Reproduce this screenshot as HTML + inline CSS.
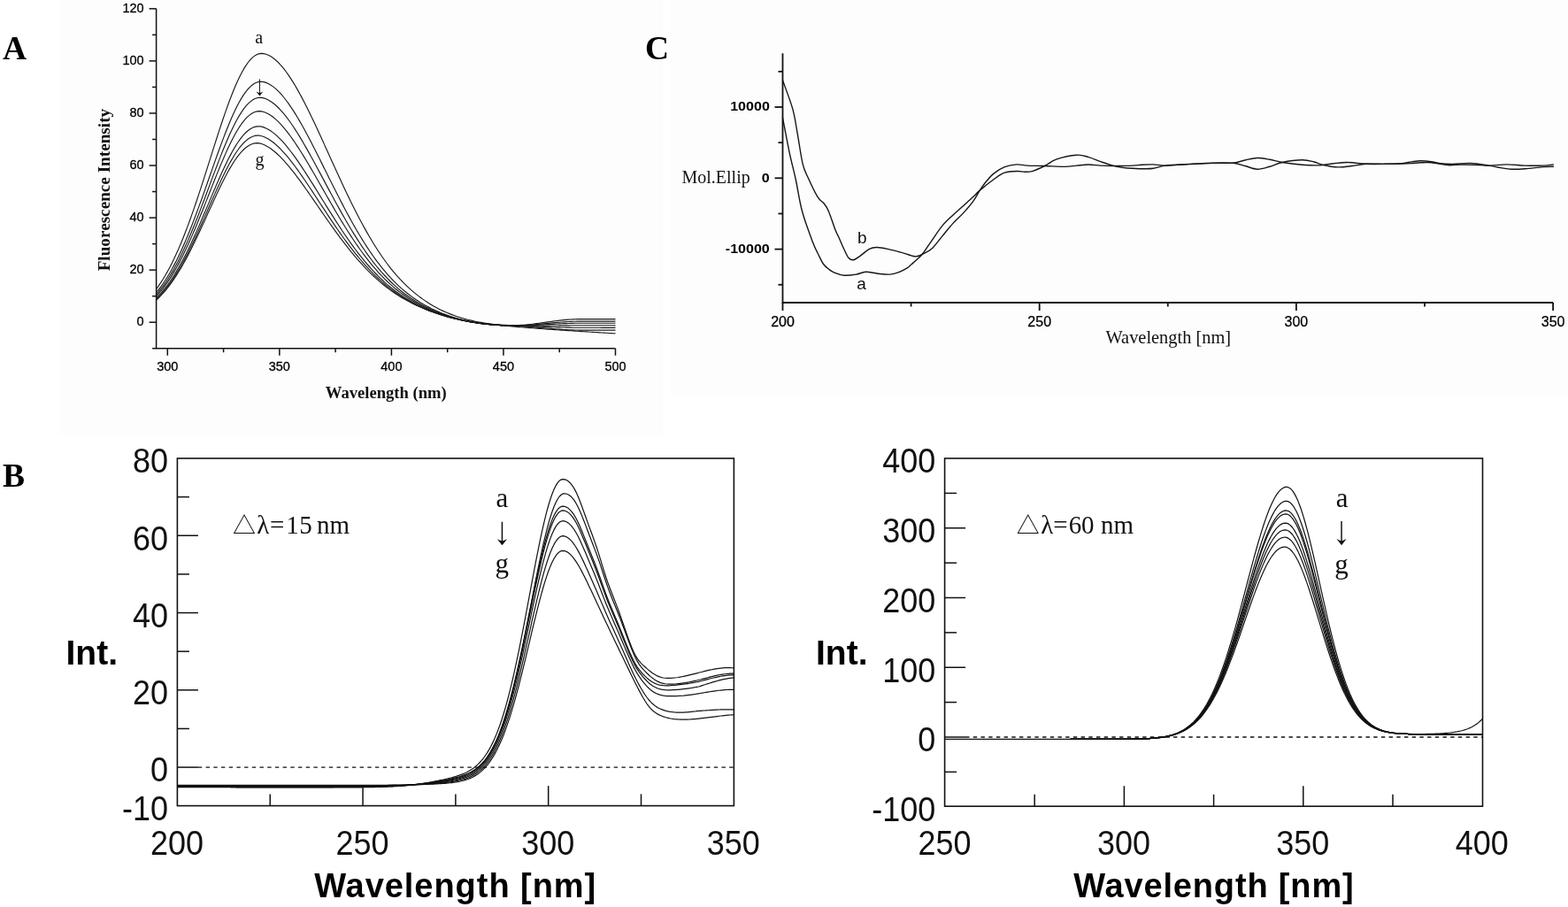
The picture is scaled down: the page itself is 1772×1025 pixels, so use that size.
<!DOCTYPE html>
<html><head><meta charset="utf-8"><title>Figure</title>
<style>html,body{margin:0;padding:0;background:#fff;}body{width:1772px;height:1025px;overflow:hidden;}svg{display:block;}</style>
</head><body>
<svg width="1772" height="1025" viewBox="0 0 1772 1025">
<rect x="0" y="0" width="1772" height="1025" fill="#ffffff"/>
<rect x="67" y="0" width="682" height="491.5" fill="#fdfdfd"/>
<rect x="757.5" y="0" width="1014.5" height="445.5" fill="#fdfdfd"/>
<g stroke="#111" stroke-width="1.5" fill="none" stroke-linecap="butt">
<path d="M176.6,9.84 L176.6,393.73 L695.4,393.73"/>
<path d="M172.1,393.73 L176.6,393.73"/>
<path d="M168.6,364.2 L176.6,364.2"/>
<path d="M172.1,334.67 L176.6,334.67"/>
<path d="M168.6,305.14 L176.6,305.14"/>
<path d="M172.1,275.61 L176.6,275.61"/>
<path d="M168.6,246.08 L176.6,246.08"/>
<path d="M172.1,216.55 L176.6,216.55"/>
<path d="M168.6,187.02 L176.6,187.02"/>
<path d="M172.1,157.49 L176.6,157.49"/>
<path d="M168.6,127.96 L176.6,127.96"/>
<path d="M172.1,98.43 L176.6,98.43"/>
<path d="M168.6,68.9 L176.6,68.9"/>
<path d="M172.1,39.37 L176.6,39.37"/>
<path d="M168.6,9.84 L176.6,9.84"/>
<path d="M189.3,393.73 L189.3,401.73"/>
<path d="M252.58,393.73 L252.58,398.23"/>
<path d="M315.85,393.73 L315.85,401.73"/>
<path d="M379.12,393.73 L379.12,398.23"/>
<path d="M442.4,393.73 L442.4,401.73"/>
<path d="M505.68,393.73 L505.68,398.23"/>
<path d="M568.95,393.73 L568.95,401.73"/>
<path d="M632.23,393.73 L632.23,398.23"/>
<path d="M695.5,393.73 L695.5,401.73"/>
</g>
<g font-family="'Liberation Sans', Arial, sans-serif" font-size="14.5" fill="#000" stroke="#000" stroke-width="0.3" text-anchor="end">
<text x="162.6" y="368.3">0</text>
<text x="162.6" y="309.24">20</text>
<text x="162.6" y="250.18">40</text>
<text x="162.6" y="191.12">60</text>
<text x="162.6" y="132.06">80</text>
<text x="162.6" y="73">100</text>
<text x="162.6" y="13.94">120</text>
</g>
<g font-family="'Liberation Sans', Arial, sans-serif" font-size="14.5" fill="#000" stroke="#000" stroke-width="0.3" text-anchor="middle">
<text x="189.3" y="419">300</text>
<text x="315.85" y="419">350</text>
<text x="442.4" y="419">400</text>
<text x="568.95" y="419">450</text>
<text x="695.5" y="419">500</text>
</g>
<text font-family="'Liberation Serif', 'Times New Roman', serif" font-weight="bold" font-size="18.6" fill="#111" x="436.3" y="449.8" text-anchor="middle">Wavelength (nm)</text>
<text font-family="'Liberation Serif', 'Times New Roman', serif" font-weight="bold" font-size="19.2" fill="#111" transform="translate(124,214.6) rotate(-90)" text-anchor="middle">Fluorescence Intensity</text>
<text font-family="'Liberation Serif', 'Times New Roman', serif" font-weight="bold" font-size="37.5" fill="#000" x="3" y="66.5">A</text>
<text font-family="'Liberation Serif', 'Times New Roman', serif" font-size="20" fill="#111" x="292.7" y="49" text-anchor="middle">a</text>
<text font-family="'Liberation Serif', 'Times New Roman', serif" font-size="20" fill="#111" x="293.4" y="186.6" text-anchor="middle">g</text>
<text transform="translate(293.4,107.1) scale(1.15,1)" font-size="22.1" font-family="'WenQuanYi Zen Hei', 'Noto Sans CJK SC', sans-serif" text-anchor="middle" fill="#111">↓</text>
<g stroke="#1a1a1a" stroke-width="1.15" fill="none" stroke-linejoin="round">
<path d="M176.65,326.54 L179.18,323.08 L181.71,319.38 L184.24,315.45 L186.77,311.27 L189.3,306.84 L191.83,302.16 L194.36,297.23 L196.89,292.03 L199.42,286.59 L201.96,280.89 L204.49,274.93 L207.02,268.74 L209.55,262.3 L212.08,255.64 L214.61,248.76 L217.14,241.68 L219.67,234.41 L222.2,226.97 L224.73,219.37 L227.27,211.64 L229.8,203.81 L232.33,195.88 L234.86,187.91 L237.39,179.9 L239.92,171.89 L242.45,163.91 L244.98,156 L247.51,148.18 L250.04,140.49 L252.58,132.97 L255.11,125.64 L257.64,118.55 L260.17,111.72 L262.7,105.2 L265.23,99 L267.76,93.17 L270.29,87.74 L272.82,82.73 L275.35,78.17 L277.88,74.09 L280.42,70.5 L282.95,67.43 L285.48,64.9 L288.01,62.91 L290.54,61.48 L293.07,60.62 L295.6,60.34 L298.13,60.57 L300.66,61.21 L303.2,62.21 L305.73,63.55 L308.26,65.22 L310.79,67.19 L313.32,69.46 L315.85,72.01 L318.38,74.83 L320.91,77.92 L323.44,81.24 L325.97,84.81 L328.5,88.59 L331.04,92.58 L333.57,96.77 L336.1,101.14 L338.63,105.68 L341.16,110.38 L343.69,115.22 L346.22,120.19 L348.75,125.27 L351.28,130.47 L353.82,135.75 L356.35,141.12 L358.88,146.55 L361.41,152.04 L363.94,157.57 L366.47,163.13 L369,168.71 L371.53,174.31 L374.06,179.9 L376.59,185.48 L379.12,191.04 L381.66,196.57 L384.19,202.06 L386.72,207.51 L389.25,212.9 L391.78,218.23 L394.31,223.49 L396.84,228.67 L399.37,233.77 L401.9,238.78 L404.44,243.71 L406.97,248.53 L409.5,253.25 L412.03,257.87 L414.56,262.38 L417.09,266.77 L419.62,271.06 L422.15,275.22 L424.68,279.27 L427.21,283.21 L429.75,287.02 L432.28,290.71 L434.81,294.28 L437.34,297.73 L439.87,301.06 L442.4,304.28 L444.93,307.37 L447.46,310.35 L449.99,313.21 L452.52,315.96 L455.06,318.6 L457.59,321.13 L460.12,323.57 L462.65,325.91 L465.18,328.17 L467.71,330.33 L470.24,332.41 L472.77,334.41 L475.3,336.32 L477.83,338.15 L480.37,339.9 L482.9,341.57 L485.43,343.18 L487.96,344.71 L490.49,346.17 L493.02,347.56 L495.55,348.89 L498.08,350.15 L500.61,351.36 L503.14,352.5 L505.68,353.59 L508.21,354.63 L510.74,355.61 L513.27,356.55 L515.8,357.43 L518.33,358.27 L520.86,359.06 L523.39,359.81 L525.92,360.52 L528.45,361.19 L530.99,361.81 L533.52,362.41 L536.05,362.96 L538.58,363.48 L541.11,363.96 L543.64,364.42 L546.17,364.84 L548.7,365.22 L551.23,365.58 L553.76,365.91 L556.3,366.21 L558.83,366.48 L561.36,366.72 L563.89,366.94 L566.42,367.13 L568.95,367.29 L571.48,367.43 L574.01,367.56 L576.54,367.66 L579.07,367.7 L581.61,367.69 L584.14,367.64 L586.67,367.53 L589.2,367.39 L591.73,367.21 L594.26,367 L596.79,366.76 L599.32,366.49 L601.85,366.2 L604.38,365.89 L606.91,365.57 L609.45,365.23 L611.98,364.88 L614.51,364.52 L617.04,364.17 L619.57,363.81 L622.1,363.45 L624.63,363.11 L627.16,362.77 L629.69,362.45 L632.23,362.14 L634.76,361.85 L637.29,361.59 L639.82,361.35 L642.35,361.14 L644.88,360.96 L647.41,360.82 L649.94,360.72 L652.47,360.65 L655,360.64 L657.54,360.64 L660.07,360.65 L662.6,360.65 L665.13,360.66 L667.66,360.66 L670.19,360.66 L672.72,360.66 L675.25,360.67 L677.78,360.67 L680.31,360.67 L682.85,360.67 L685.38,360.67 L687.91,360.68 L690.44,360.68 L692.97,360.68 L695.5,360.68"/>
<path d="M176.65,330.51 L179.18,327.39 L181.71,324.06 L184.24,320.51 L186.77,316.74 L189.3,312.74 L191.83,308.52 L194.36,304.06 L196.89,299.37 L199.42,294.44 L201.96,289.29 L204.49,283.91 L207.02,278.3 L209.55,272.48 L212.08,266.46 L214.61,260.24 L217.14,253.84 L219.67,247.26 L222.2,240.53 L224.73,233.67 L227.27,226.69 L229.8,219.61 L232.33,212.46 L234.86,205.26 L237.39,198.04 L239.92,190.82 L242.45,183.64 L244.98,176.51 L247.51,169.49 L250.04,162.58 L252.58,155.83 L255.11,149.27 L257.64,142.93 L260.17,136.83 L262.7,131.02 L265.23,125.51 L267.76,120.34 L270.29,115.54 L272.82,111.13 L275.35,107.14 L277.88,103.58 L280.42,100.48 L282.95,97.85 L285.48,95.71 L288.01,94.08 L290.54,92.95 L293.07,92.34 L295.6,92.26 L298.13,92.64 L300.66,93.4 L303.2,94.5 L305.73,95.91 L308.26,97.63 L310.79,99.63 L313.32,101.91 L315.85,104.44 L318.38,107.23 L320.91,110.25 L323.44,113.48 L325.97,116.93 L328.5,120.58 L331.04,124.4 L333.57,128.4 L336.1,132.56 L338.63,136.86 L341.16,141.29 L343.69,145.84 L346.22,150.5 L348.75,155.26 L351.28,160.09 L353.82,165 L356.35,169.97 L358.88,174.99 L361.41,180.04 L363.94,185.12 L366.47,190.21 L369,195.31 L371.53,200.4 L374.06,205.48 L376.59,210.54 L379.12,215.56 L381.66,220.55 L384.19,225.49 L386.72,230.37 L389.25,235.19 L391.78,239.95 L394.31,244.63 L396.84,249.23 L399.37,253.75 L401.9,258.18 L404.44,262.52 L406.97,266.76 L409.5,270.9 L412.03,274.94 L414.56,278.88 L417.09,282.71 L419.62,286.43 L422.15,290.04 L424.68,293.54 L427.21,296.94 L429.75,300.22 L432.28,303.39 L434.81,306.45 L437.34,309.4 L439.87,312.24 L442.4,314.98 L444.93,317.6 L447.46,320.13 L449.99,322.55 L452.52,324.86 L455.06,327.08 L457.59,329.21 L460.12,331.25 L462.65,333.22 L465.18,335.11 L467.71,336.92 L470.24,338.66 L472.77,340.32 L475.3,341.92 L477.83,343.44 L480.37,344.9 L482.9,346.3 L485.43,347.63 L487.96,348.9 L490.49,350.12 L493.02,351.28 L495.55,352.38 L498.08,353.44 L500.61,354.44 L503.14,355.4 L505.68,356.3 L508.21,357.17 L510.74,357.99 L513.27,358.76 L515.8,359.5 L518.33,360.2 L520.86,360.86 L523.39,361.49 L525.92,362.08 L528.45,362.64 L530.99,363.17 L533.52,363.66 L536.05,364.12 L538.58,364.56 L541.11,364.96 L543.64,365.34 L546.17,365.69 L548.7,366.01 L551.23,366.31 L553.76,366.58 L556.3,366.83 L558.83,367.05 L561.36,367.25 L563.89,367.42 L566.42,367.57 L568.95,367.7 L571.48,367.81 L574.01,367.91 L576.54,367.98 L579.07,368.02 L581.61,368.02 L584.14,367.98 L586.67,367.92 L589.2,367.82 L591.73,367.7 L594.26,367.56 L596.79,367.4 L599.32,367.21 L601.85,367.01 L604.38,366.8 L606.91,366.57 L609.45,366.34 L611.98,366.1 L614.51,365.85 L617.04,365.61 L619.57,365.36 L622.1,365.11 L624.63,364.87 L627.16,364.64 L629.69,364.42 L632.23,364.2 L634.76,364 L637.29,363.82 L639.82,363.66 L642.35,363.51 L644.88,363.39 L647.41,363.29 L649.94,363.22 L652.47,363.17 L655,363.16 L657.54,363.17 L660.07,363.17 L662.6,363.17 L665.13,363.17 L667.66,363.18 L670.19,363.18 L672.72,363.18 L675.25,363.18 L677.78,363.18 L680.31,363.19 L682.85,363.19 L685.38,363.19 L687.91,363.19 L690.44,363.19 L692.97,363.19 L695.5,363.19"/>
<path d="M176.65,332.76 L179.18,329.83 L181.71,326.7 L184.24,323.36 L186.77,319.81 L189.3,316.04 L191.83,312.06 L194.36,307.85 L196.89,303.43 L199.42,298.78 L201.96,293.92 L204.49,288.85 L207.02,283.56 L209.55,278.07 L212.08,272.39 L214.61,266.52 L217.14,260.48 L219.67,254.27 L222.2,247.93 L224.73,241.46 L227.27,234.88 L229.8,228.21 L232.33,221.47 L234.86,214.7 L237.39,207.9 L239.92,201.12 L242.45,194.37 L244.98,187.68 L247.51,181.09 L250.04,174.63 L252.58,168.31 L255.11,162.18 L257.64,156.26 L260.17,150.59 L262.7,145.19 L265.23,140.08 L267.76,135.31 L270.29,130.88 L272.82,126.84 L275.35,123.19 L277.88,119.96 L280.42,117.18 L282.95,114.84 L285.48,112.97 L288.01,111.58 L290.54,110.68 L293.07,110.27 L295.6,110.36 L298.13,110.88 L300.66,111.74 L303.2,112.93 L305.73,114.41 L308.26,116.18 L310.79,118.21 L313.32,120.5 L315.85,123.02 L318.38,125.77 L320.91,128.74 L323.44,131.9 L325.97,135.25 L328.5,138.78 L331.04,142.47 L333.57,146.31 L336.1,150.29 L338.63,154.4 L341.16,158.62 L343.69,162.95 L346.22,167.36 L348.75,171.86 L351.28,176.42 L353.82,181.04 L356.35,185.71 L358.88,190.41 L361.41,195.14 L363.94,199.88 L366.47,204.63 L369,209.38 L371.53,214.12 L374.06,218.83 L376.59,223.52 L379.12,228.18 L381.66,232.79 L384.19,237.35 L386.72,241.85 L389.25,246.3 L391.78,250.67 L394.31,254.98 L396.84,259.21 L399.37,263.35 L401.9,267.42 L404.44,271.39 L406.97,275.28 L409.5,279.07 L412.03,282.76 L414.56,286.36 L417.09,289.85 L419.62,293.25 L422.15,296.54 L424.68,299.74 L427.21,302.83 L429.75,305.82 L432.28,308.7 L434.81,311.49 L437.34,314.17 L439.87,316.76 L442.4,319.24 L444.93,321.63 L447.46,323.92 L449.99,326.12 L452.52,328.23 L455.06,330.24 L457.59,332.18 L460.12,334.04 L462.65,335.83 L465.18,337.55 L467.71,339.2 L470.24,340.78 L472.77,342.31 L475.3,343.76 L477.83,345.16 L480.37,346.5 L482.9,347.78 L485.43,349 L487.96,350.18 L490.49,351.29 L493.02,352.36 L495.55,353.39 L498.08,354.36 L500.61,355.29 L503.14,356.17 L505.68,357.02 L508.21,357.82 L510.74,358.59 L513.27,359.31 L515.8,360 L518.33,360.66 L520.86,361.28 L523.39,361.87 L525.92,362.42 L528.45,362.95 L530.99,363.44 L533.52,363.91 L536.05,364.35 L538.58,364.76 L541.11,365.15 L543.64,365.5 L546.17,365.84 L548.7,366.14 L551.23,366.43 L553.76,366.69 L556.3,366.92 L558.83,367.13 L561.36,367.32 L563.89,367.48 L566.42,367.63 L568.95,367.74 L571.48,367.85 L574.01,367.94 L576.54,368.02 L579.07,368.07 L581.61,368.09 L584.14,368.09 L586.67,368.07 L589.2,368.03 L591.73,367.97 L594.26,367.9 L596.79,367.81 L599.32,367.7 L601.85,367.59 L604.38,367.47 L606.91,367.33 L609.45,367.19 L611.98,367.05 L614.51,366.9 L617.04,366.75 L619.57,366.6 L622.1,366.45 L624.63,366.31 L627.16,366.16 L629.69,366.03 L632.23,365.89 L634.76,365.77 L637.29,365.66 L639.82,365.56 L642.35,365.47 L644.88,365.39 L647.41,365.33 L649.94,365.29 L652.47,365.26 L655,365.26 L657.54,365.26 L660.07,365.26 L662.6,365.27 L665.13,365.27 L667.66,365.27 L670.19,365.27 L672.72,365.28 L675.25,365.28 L677.78,365.28 L680.31,365.28 L682.85,365.28 L685.38,365.28 L687.91,365.28 L690.44,365.29 L692.97,365.29 L695.5,365.29"/>
<path d="M176.65,334.68 L179.18,331.91 L181.71,328.94 L184.24,325.78 L186.77,322.41 L189.3,318.84 L191.83,315.07 L194.36,311.08 L196.89,306.88 L199.42,302.47 L201.96,297.86 L204.49,293.04 L207.02,288.02 L209.55,282.81 L212.08,277.41 L214.61,271.84 L217.14,266.11 L219.67,260.22 L222.2,254.2 L224.73,248.06 L227.27,241.82 L229.8,235.5 L232.33,229.11 L234.86,222.7 L237.39,216.26 L239.92,209.85 L242.45,203.47 L244.98,197.16 L247.51,190.94 L250.04,184.85 L252.58,178.9 L255.11,173.14 L257.64,167.59 L260.17,162.28 L262.7,157.23 L265.23,152.47 L267.76,148.04 L270.29,143.94 L272.82,140.21 L275.35,136.87 L277.88,133.93 L280.42,131.42 L282.95,129.34 L285.48,127.71 L288.01,126.54 L290.54,125.83 L293.07,125.6 L295.6,125.85 L298.13,126.49 L300.66,127.45 L303.2,128.72 L305.73,130.26 L308.26,132.07 L310.79,134.12 L313.32,136.4 L315.85,138.91 L318.38,141.62 L320.91,144.52 L323.44,147.6 L325.97,150.85 L328.5,154.26 L331.04,157.82 L333.57,161.5 L336.1,165.31 L338.63,169.23 L341.16,173.25 L343.69,177.35 L346.22,181.54 L348.75,185.79 L351.28,190.09 L353.82,194.44 L356.35,198.83 L358.88,203.24 L361.41,207.67 L363.94,212.11 L366.47,216.55 L369,220.98 L371.53,225.39 L374.06,229.78 L376.59,234.14 L379.12,238.46 L381.66,242.74 L384.19,246.96 L386.72,251.13 L389.25,255.25 L391.78,259.29 L394.31,263.27 L396.84,267.17 L399.37,271 L401.9,274.74 L404.44,278.4 L406.97,281.98 L409.5,285.47 L412.03,288.87 L414.56,292.18 L417.09,295.39 L419.62,298.52 L422.15,301.54 L424.68,304.48 L427.21,307.32 L429.75,310.06 L432.28,312.72 L434.81,315.28 L437.34,317.74 L439.87,320.12 L442.4,322.4 L444.93,324.6 L447.46,326.71 L449.99,328.73 L452.52,330.66 L455.06,332.52 L457.59,334.3 L460.12,336.02 L462.65,337.67 L465.18,339.26 L467.71,340.78 L470.24,342.25 L472.77,343.66 L475.3,345.02 L477.83,346.31 L480.37,347.56 L482.9,348.75 L485.43,349.9 L487.96,350.99 L490.49,352.04 L493.02,353.05 L495.55,354.01 L498.08,354.92 L500.61,355.8 L503.14,356.64 L505.68,357.44 L508.21,358.2 L510.74,358.92 L513.27,359.61 L515.8,360.27 L518.33,360.9 L520.86,361.49 L523.39,362.05 L525.92,362.59 L528.45,363.09 L530.99,363.57 L533.52,364.02 L536.05,364.44 L538.58,364.84 L541.11,365.21 L543.64,365.56 L546.17,365.88 L548.7,366.18 L551.23,366.46 L553.76,366.71 L556.3,366.94 L558.83,367.14 L561.36,367.33 L563.89,367.49 L566.42,367.63 L568.95,367.74 L571.48,367.84 L574.01,367.94 L576.54,368.02 L579.07,368.09 L581.61,368.14 L584.14,368.19 L586.67,368.22 L589.2,368.25 L591.73,368.27 L594.26,368.28 L596.79,368.28 L599.32,368.27 L601.85,368.26 L604.38,368.25 L606.91,368.23 L609.45,368.2 L611.98,368.18 L614.51,368.15 L617.04,368.12 L619.57,368.08 L622.1,368.05 L624.63,368.01 L627.16,367.98 L629.69,367.95 L632.23,367.91 L634.76,367.88 L637.29,367.85 L639.82,367.83 L642.35,367.81 L644.88,367.79 L647.41,367.77 L649.94,367.77 L652.47,367.76 L655,367.76 L657.54,367.77 L660.07,367.77 L662.6,367.77 L665.13,367.78 L667.66,367.78 L670.19,367.78 L672.72,367.78 L675.25,367.79 L677.78,367.79 L680.31,367.79 L682.85,367.79 L685.38,367.79 L687.91,367.79 L690.44,367.79 L692.97,367.8 L695.5,367.8"/>
<path d="M176.65,336.82 L179.18,334.23 L181.71,331.45 L184.24,328.49 L186.77,325.34 L189.3,322 L191.83,318.46 L194.36,314.72 L196.89,310.79 L199.42,306.65 L201.96,302.33 L204.49,297.81 L207.02,293.1 L209.55,288.21 L212.08,283.15 L214.61,277.92 L217.14,272.54 L219.67,267.02 L222.2,261.38 L224.73,255.62 L227.27,249.78 L229.8,243.85 L232.33,237.88 L234.86,231.87 L237.39,225.86 L239.92,219.86 L242.45,213.91 L244.98,208.02 L247.51,202.23 L250.04,196.55 L252.58,191.03 L255.11,185.69 L257.64,180.54 L260.17,175.63 L262.7,170.97 L265.23,166.6 L267.76,162.53 L270.29,158.79 L272.82,155.4 L275.35,152.38 L277.88,149.74 L280.42,147.51 L282.95,145.69 L285.48,144.3 L288.01,143.34 L290.54,142.82 L293.07,142.76 L295.6,143.15 L298.13,143.89 L300.66,144.93 L303.2,146.24 L305.73,147.81 L308.26,149.61 L310.79,151.64 L313.32,153.88 L315.85,156.31 L318.38,158.93 L320.91,161.72 L323.44,164.68 L325.97,167.78 L328.5,171.02 L331.04,174.38 L333.57,177.86 L336.1,181.44 L338.63,185.12 L341.16,188.89 L343.69,192.72 L346.22,196.62 L348.75,200.57 L351.28,204.57 L353.82,208.61 L356.35,212.67 L358.88,216.75 L361.41,220.83 L363.94,224.93 L366.47,229.01 L369,233.08 L371.53,237.14 L374.06,241.16 L376.59,245.16 L379.12,249.11 L381.66,253.02 L384.19,256.89 L386.72,260.7 L389.25,264.45 L391.78,268.14 L394.31,271.77 L396.84,275.32 L399.37,278.81 L401.9,282.22 L404.44,285.55 L406.97,288.8 L409.5,291.98 L412.03,295.07 L414.56,298.08 L417.09,301 L419.62,303.84 L422.15,306.59 L424.68,309.26 L427.21,311.84 L429.75,314.34 L432.28,316.75 L434.81,319.08 L437.34,321.32 L439.87,323.48 L442.4,325.56 L444.93,327.56 L447.46,329.48 L449.99,331.32 L452.52,333.09 L455.06,334.78 L457.59,336.41 L460.12,337.98 L462.65,339.49 L465.18,340.95 L467.71,342.35 L470.24,343.7 L472.77,345 L475.3,346.25 L477.83,347.45 L480.37,348.6 L482.9,349.71 L485.43,350.77 L487.96,351.8 L490.49,352.77 L493.02,353.71 L495.55,354.61 L498.08,355.47 L500.61,356.3 L503.14,357.08 L505.68,357.84 L508.21,358.56 L510.74,359.25 L513.27,359.9 L515.8,360.53 L518.33,361.12 L520.86,361.69 L523.39,362.23 L525.92,362.74 L528.45,363.23 L530.99,363.68 L533.52,364.12 L536.05,364.53 L538.58,364.91 L541.11,365.27 L543.64,365.61 L546.17,365.92 L548.7,366.21 L551.23,366.48 L553.76,366.72 L556.3,366.95 L558.83,367.15 L561.36,367.33 L563.89,367.49 L566.42,367.62 L568.95,367.73 L571.48,367.83 L574.01,367.92 L576.54,368.01 L579.07,368.1 L581.61,368.19 L584.14,368.28 L586.67,368.37 L589.2,368.46 L591.73,368.56 L594.26,368.65 L596.79,368.75 L599.32,368.84 L601.85,368.93 L604.38,369.03 L606.91,369.12 L609.45,369.21 L611.98,369.3 L614.51,369.39 L617.04,369.47 L619.57,369.56 L622.1,369.64 L624.63,369.72 L627.16,369.79 L629.69,369.86 L632.23,369.93 L634.76,369.99 L637.29,370.05 L639.82,370.1 L642.35,370.14 L644.88,370.18 L647.41,370.22 L649.94,370.24 L652.47,370.26 L655,370.27 L657.54,370.27 L660.07,370.28 L662.6,370.28 L665.13,370.28 L667.66,370.29 L670.19,370.29 L672.72,370.29 L675.25,370.29 L677.78,370.3 L680.31,370.3 L682.85,370.3 L685.38,370.3 L687.91,370.3 L690.44,370.3 L692.97,370.3 L695.5,370.31"/>
<path d="M176.65,338.12 L179.18,335.63 L181.71,332.96 L184.24,330.11 L186.77,327.08 L189.3,323.87 L191.83,320.46 L194.36,316.87 L196.89,313.08 L199.42,309.1 L201.96,304.93 L204.49,300.57 L207.02,296.04 L209.55,291.33 L212.08,286.45 L214.61,281.42 L217.14,276.23 L219.67,270.92 L222.2,265.48 L224.73,259.94 L227.27,254.31 L229.8,248.62 L232.33,242.87 L234.86,237.1 L237.39,231.33 L239.92,225.57 L242.45,219.86 L244.98,214.22 L247.51,208.68 L250.04,203.26 L252.58,197.99 L255.11,192.89 L257.64,188 L260.17,183.34 L262.7,178.93 L265.23,174.8 L267.76,170.97 L270.29,167.47 L272.82,164.3 L275.35,161.5 L277.88,159.08 L280.42,157.06 L282.95,155.43 L285.48,154.23 L288.01,153.44 L290.54,153.08 L293.07,153.19 L295.6,153.71 L298.13,154.55 L300.66,155.68 L303.2,157.06 L305.73,158.68 L308.26,160.52 L310.79,162.56 L313.32,164.8 L315.85,167.22 L318.38,169.81 L320.91,172.56 L323.44,175.45 L325.97,178.47 L328.5,181.62 L331.04,184.88 L333.57,188.24 L336.1,191.69 L338.63,195.23 L341.16,198.84 L343.69,202.51 L346.22,206.23 L348.75,210 L351.28,213.8 L353.82,217.63 L356.35,221.48 L358.88,225.35 L361.41,229.21 L363.94,233.08 L366.47,236.93 L369,240.77 L371.53,244.59 L374.06,248.38 L376.59,252.13 L379.12,255.84 L381.66,259.52 L384.19,263.14 L386.72,266.71 L389.25,270.23 L391.78,273.68 L394.31,277.07 L396.84,280.4 L399.37,283.66 L401.9,286.84 L404.44,289.96 L406.97,293 L409.5,295.96 L412.03,298.85 L414.56,301.66 L417.09,304.39 L419.62,307.04 L422.15,309.61 L424.68,312.11 L427.21,314.52 L429.75,316.85 L432.28,319.11 L434.81,321.28 L437.34,323.38 L439.87,325.41 L442.4,327.35 L444.93,329.23 L447.46,331.03 L449.99,332.76 L452.52,334.41 L455.06,336 L457.59,337.53 L460.12,339.01 L462.65,340.43 L465.18,341.81 L467.71,343.14 L470.24,344.41 L472.77,345.65 L475.3,346.83 L477.83,347.97 L480.37,349.07 L482.9,350.13 L485.43,351.15 L487.96,352.12 L490.49,353.06 L493.02,353.96 L495.55,354.83 L498.08,355.66 L500.61,356.45 L503.14,357.21 L505.68,357.94 L508.21,358.64 L510.74,359.31 L513.27,359.95 L515.8,360.56 L518.33,361.14 L520.86,361.7 L523.39,362.22 L525.92,362.73 L528.45,363.2 L530.99,363.65 L533.52,364.08 L536.05,364.49 L538.58,364.87 L541.11,365.22 L543.64,365.56 L546.17,365.87 L548.7,366.16 L551.23,366.42 L553.76,366.67 L556.3,366.89 L558.83,367.09 L561.36,367.27 L563.89,367.43 L566.42,367.56 L568.95,367.68 L571.48,367.78 L574.01,367.87 L576.54,367.97 L579.07,368.08 L581.61,368.21 L584.14,368.36 L586.67,368.51 L589.2,368.68 L591.73,368.86 L594.26,369.05 L596.79,369.25 L599.32,369.46 L601.85,369.67 L604.38,369.88 L606.91,370.1 L609.45,370.32 L611.98,370.55 L614.51,370.77 L617.04,370.99 L619.57,371.2 L622.1,371.41 L624.63,371.62 L627.16,371.81 L629.69,372 L632.23,372.18 L634.76,372.34 L637.29,372.5 L639.82,372.63 L642.35,372.75 L644.88,372.86 L647.41,372.94 L649.94,373.01 L652.47,373.05 L655,373.06 L657.54,373.07 L660.07,373.07 L662.6,373.08 L665.13,373.08 L667.66,373.09 L670.19,373.09 L672.72,373.09 L675.25,373.09 L677.78,373.1 L680.31,373.1 L682.85,373.1 L685.38,373.1 L687.91,373.1 L690.44,373.11 L692.97,373.11 L695.5,373.11"/>
<path d="M176.65,339.19 L179.18,336.78 L181.71,334.21 L184.24,331.45 L186.77,328.52 L189.3,325.41 L191.83,322.11 L194.36,318.62 L196.89,314.95 L199.42,311.09 L201.96,307.05 L204.49,302.83 L207.02,298.43 L209.55,293.87 L212.08,289.14 L214.61,284.25 L217.14,279.23 L219.67,274.08 L222.2,268.81 L224.73,263.44 L227.27,257.99 L229.8,252.47 L232.33,246.91 L234.86,241.33 L237.39,235.75 L239.92,230.19 L242.45,224.68 L244.98,219.25 L247.51,213.91 L250.04,208.7 L252.58,203.64 L255.11,198.76 L257.64,194.08 L260.17,189.63 L262.7,185.43 L265.23,181.51 L267.76,177.89 L270.29,174.58 L272.82,171.62 L275.35,169.02 L277.88,166.79 L280.42,164.95 L282.95,163.5 L285.48,162.46 L288.01,161.83 L290.54,161.62 L293.07,161.9 L295.6,162.54 L298.13,163.48 L300.66,164.69 L303.2,166.14 L305.73,167.8 L308.26,169.68 L310.79,171.75 L313.32,173.99 L315.85,176.4 L318.38,178.97 L320.91,181.67 L323.44,184.51 L325.97,187.47 L328.5,190.54 L331.04,193.71 L333.57,196.96 L336.1,200.3 L338.63,203.71 L341.16,207.19 L343.69,210.71 L346.22,214.28 L348.75,217.89 L351.28,221.52 L353.82,225.18 L356.35,228.85 L358.88,232.52 L361.41,236.2 L363.94,239.87 L366.47,243.52 L369,247.16 L371.53,250.77 L374.06,254.35 L376.59,257.9 L379.12,261.41 L381.66,264.87 L384.19,268.29 L386.72,271.65 L389.25,274.96 L391.78,278.22 L394.31,281.41 L396.84,284.54 L399.37,287.61 L401.9,290.6 L404.44,293.53 L406.97,296.39 L409.5,299.18 L412.03,301.89 L414.56,304.54 L417.09,307.1 L419.62,309.6 L422.15,312.02 L424.68,314.36 L427.21,316.63 L429.75,318.83 L432.28,320.95 L434.81,323 L437.34,324.98 L439.87,326.89 L442.4,328.73 L444.93,330.49 L447.46,332.19 L449.99,333.83 L452.52,335.4 L455.06,336.9 L457.59,338.35 L460.12,339.75 L462.65,341.11 L465.18,342.42 L467.71,343.68 L470.24,344.9 L472.77,346.08 L475.3,347.21 L477.83,348.31 L480.37,349.36 L482.9,350.38 L485.43,351.36 L487.96,352.3 L490.49,353.21 L493.02,354.08 L495.55,354.92 L498.08,355.73 L500.61,356.5 L503.14,357.24 L505.68,357.96 L508.21,358.64 L510.74,359.29 L513.27,359.92 L515.8,360.52 L518.33,361.09 L520.86,361.64 L523.39,362.16 L525.92,362.65 L528.45,363.13 L530.99,363.57 L533.52,364 L536.05,364.4 L538.58,364.78 L541.11,365.13 L543.64,365.47 L546.17,365.78 L548.7,366.07 L551.23,366.33 L553.76,366.58 L556.3,366.8 L558.83,367.01 L561.36,367.19 L563.89,367.35 L566.42,367.64 L568.95,367.91 L571.48,368.17 L574.01,368.42 L576.54,368.66 L579.07,368.89 L581.61,369.12 L584.14,369.35 L586.67,369.57 L589.2,369.78 L591.73,369.99 L594.26,370.19 L596.79,370.4 L599.32,370.59 L601.85,370.79 L604.38,370.98 L606.91,371.17 L609.45,371.35 L611.98,371.54 L614.51,371.72 L617.04,371.89 L619.57,372.07 L622.1,372.25 L624.63,372.42 L627.16,372.59 L629.69,372.76 L632.23,372.93 L634.76,373.1 L637.29,373.26 L639.82,373.43 L642.35,373.59 L644.88,373.76 L647.41,373.92 L649.94,374.08 L652.47,374.24 L655,374.4 L657.54,374.56 L660.07,374.72 L662.6,374.88 L665.13,375.04 L667.66,375.2 L670.19,375.35 L672.72,375.51 L675.25,375.67 L677.78,375.82 L680.31,375.98 L682.85,376.14 L685.38,376.29 L687.91,376.45 L690.44,376.6 L692.97,376.76 L695.5,376.91"/>
</g>
<g stroke="#111" stroke-width="1.8" fill="none">
<path d="M884.5,60.3 L884.5,342.0 L1755.1,342.0"/>
<path d="M879.5,321.75 L884.5,321.75"/>
<path d="M875.5,281.6 L884.5,281.6"/>
<path d="M879.5,241.45 L884.5,241.45"/>
<path d="M875.5,201.3 L884.5,201.3"/>
<path d="M879.5,161.15 L884.5,161.15"/>
<path d="M875.5,121 L884.5,121"/>
<path d="M879.5,80.85 L884.5,80.85"/>
<path d="M884.5,342.0 L884.5,351"/>
<path d="M1029.6,342.0 L1029.6,346.5"/>
<path d="M1174.7,342.0 L1174.7,351"/>
<path d="M1319.8,342.0 L1319.8,346.5"/>
<path d="M1464.9,342.0 L1464.9,351"/>
<path d="M1610,342.0 L1610,346.5"/>
<path d="M1755.1,342.0 L1755.1,351"/>
</g>
<g font-family="'Liberation Sans', Arial, sans-serif" font-size="14.6" font-weight="bold" fill="#000" text-anchor="end">
<text transform="translate(869.8,125.3) scale(1.1,1)">10000</text>
<text transform="translate(869.8,205.6) scale(1.1,1)">0</text>
<text transform="translate(869.8,285.9) scale(1.1,1)">-10000</text>
</g>
<g font-family="'Liberation Sans', Arial, sans-serif" font-size="16" fill="#000" stroke="#000" stroke-width="0.25" text-anchor="middle">
<text x="884.5" y="369">200</text>
<text x="1174.7" y="369">250</text>
<text x="1464.9" y="369">300</text>
<text x="1755.1" y="369">350</text>
</g>
<text font-family="'Liberation Serif', 'Times New Roman', serif" font-size="20.4" fill="#111" x="1249.5" y="387.5">Wavelength [nm]</text>
<text font-family="'Liberation Serif', 'Times New Roman', serif" font-size="20" fill="#111" x="770.5" y="207.2">Mol.Ellip</text>
<text font-family="'Liberation Serif', 'Times New Roman', serif" font-weight="bold" font-size="37.5" fill="#000" x="729" y="67">C</text>
<text font-family="'Liberation Sans', Arial, sans-serif" font-size="19" fill="#111" x="974.2" y="275.1" text-anchor="middle">b</text>
<text font-family="'Liberation Sans', Arial, sans-serif" font-size="19" fill="#111" x="973.6" y="326.7" text-anchor="middle">a</text>
<g stroke="#151515" stroke-width="1.4" fill="none" stroke-linejoin="round">
<path d="M884.4,132.7 C885.72,139.43 889.82,161.38 892.3,173.1 C894.78,184.82 896.95,192.15 899.3,203 C901.65,213.85 903.23,226.5 906.4,238.2 C909.57,249.9 915.12,264.73 918.3,273.2 C921.48,281.67 923.45,284.78 925.5,289 C927.55,293.22 928.75,295.97 930.6,298.5 C932.45,301.03 934.55,302.58 936.6,304.2 C938.65,305.82 940.03,307.03 942.9,308.2 C945.77,309.37 949.7,310.88 953.8,311.2 C957.9,311.52 963.4,310.75 967.5,310.1 C971.6,309.45 974.3,307.45 978.4,307.3 C982.5,307.15 987.55,308.73 992.1,309.2 C996.65,309.67 1001.72,310.38 1005.7,310.1 C1009.68,309.82 1012.82,308.65 1016,307.5 C1019.18,306.35 1022.47,304.65 1024.8,303.2 C1027.13,301.75 1028.13,300.42 1030,298.8 C1031.87,297.18 1033.85,295.55 1036,293.5 C1038.15,291.45 1040,290.2 1042.9,286.5 C1045.8,282.8 1049.7,276.57 1053.4,271.3 C1057.1,266.03 1061.2,259.58 1065.1,254.9 C1069,250.22 1072.9,246.9 1076.8,243.2 C1080.7,239.5 1084.6,236.22 1088.5,232.7 C1092.4,229.18 1097.07,225.03 1100.2,222.1 C1103.33,219.17 1103.38,218.42 1107.3,215.1 C1111.22,211.78 1119.02,205.52 1123.7,202.2 C1128.38,198.88 1131.02,196.65 1135.4,195.2 C1139.78,193.75 1146.23,193.65 1150,193.5 C1153.77,193.35 1155.15,194.32 1158,194.3 C1160.85,194.28 1163.33,194.53 1167.1,193.4 C1170.87,192.27 1176.08,189.75 1180.6,187.5 C1185.12,185.25 1188.18,181.95 1194.2,179.9 C1200.22,177.85 1210.68,175.58 1216.7,175.2 C1222.72,174.82 1225.78,176.37 1230.3,177.6 C1234.82,178.83 1239.28,181.02 1243.8,182.6 C1248.32,184.18 1253.37,186 1257.4,187.1 C1261.43,188.2 1264.23,188.68 1268,189.2 C1271.77,189.72 1275.75,189.95 1280,190.2 C1284.25,190.45 1289.58,190.7 1293.5,190.7 C1297.42,190.7 1299.57,190.8 1303.5,190.2 C1307.43,189.6 1310.32,187.87 1317.1,187.1 C1323.88,186.33 1335.17,186.05 1344.2,185.6 C1353.23,185.15 1363.03,184.65 1371.3,184.4 C1379.57,184.15 1387.85,184.67 1393.8,184.1 C1399.75,183.53 1402.48,181.93 1407,181 C1411.52,180.07 1416.23,178.62 1420.9,178.5 C1425.57,178.38 1430.32,179.47 1435,180.3 C1439.68,181.13 1442.9,182.52 1449,183.5 C1455.1,184.48 1464.82,185.63 1471.6,186.2 C1478.38,186.77 1484.97,186.98 1489.7,186.9 C1494.43,186.82 1494.73,186.27 1500,185.7 C1505.27,185.13 1514,183.57 1521.3,183.5 C1528.6,183.43 1536.52,185 1543.8,185.3 C1551.08,185.6 1558.22,185.42 1565,185.3 C1571.78,185.18 1579.5,185 1584.5,184.6 C1589.5,184.2 1591.52,183.38 1595,182.9 C1598.48,182.42 1601.62,181.73 1605.4,181.7 C1609.18,181.67 1614.27,182.23 1617.7,182.7 C1621.13,183.17 1622.05,184.03 1626,184.5 C1629.95,184.97 1635.42,185.5 1641.4,185.5 C1647.38,185.5 1655.07,184.23 1661.9,184.5 C1668.73,184.77 1676.72,186.25 1682.4,187.1 C1688.08,187.95 1691.72,188.92 1696,189.6 C1700.28,190.28 1703.52,191.02 1708.1,191.2 C1712.68,191.38 1717.52,191.13 1723.5,190.7 C1729.48,190.27 1738.6,189 1744,188.6 C1749.4,188.2 1753.92,188.35 1755.9,188.3"/>
<path d="M884.4,90.5 C886.3,95.93 893.02,113.13 895.8,123.1 C898.58,133.07 899.2,139.92 901.1,150.3 C903,160.68 905.15,176.9 907.2,185.4 C909.25,193.9 910.62,195.13 913.4,201.3 C916.18,207.47 920.97,217.65 923.9,222.4 C926.83,227.15 928.95,227.17 931,229.8 C933.05,232.43 934.02,233.15 936.2,238.2 C938.38,243.25 942.08,254.97 944.1,260.1 C946.12,265.23 946.68,265.43 948.3,269 C949.92,272.57 951.97,277.7 953.8,281.5 C955.63,285.3 957.48,289.77 959.3,291.8 C961.12,293.83 962.65,294.07 964.7,293.7 C966.75,293.33 968.63,291.65 971.6,289.6 C974.57,287.55 979.32,283.08 982.5,281.4 C985.68,279.72 987.28,279.5 990.7,279.5 C994.12,279.5 997.77,280.27 1003,281.4 C1008.23,282.53 1017.6,285.05 1022.1,286.3 C1026.6,287.55 1027.7,288.32 1030,288.9 C1032.3,289.48 1033.75,290.1 1035.9,289.8 C1038.05,289.5 1039.98,288.62 1042.9,287.1 C1045.82,285.58 1049.7,284.12 1053.4,280.7 C1057.1,277.28 1061.2,271.28 1065.1,266.6 C1069,261.92 1072.9,256.88 1076.8,252.6 C1080.7,248.32 1084.6,245.2 1088.5,240.9 C1092.4,236.6 1097.07,231.1 1100.2,226.8 C1103.33,222.5 1104.83,218.82 1107.3,215.1 C1109.77,211.38 1112.27,207.75 1115,204.5 C1117.73,201.25 1120.3,198.25 1123.7,195.6 C1127.1,192.95 1131.18,190.22 1135.4,188.6 C1139.62,186.98 1144.77,186.15 1149,185.9 C1153.23,185.65 1155.53,186.83 1160.8,187.1 C1166.07,187.37 1173.53,187.28 1180.6,187.5 C1187.67,187.72 1197.18,188.47 1203.2,188.4 C1209.22,188.33 1212.18,187.5 1216.7,187.1 C1221.22,186.7 1225.78,186 1230.3,186 C1234.82,186 1239.28,186.85 1243.8,187.1 C1248.32,187.35 1251.37,187.5 1257.4,187.5 C1263.43,187.5 1274.57,187.32 1280,187.1 C1285.43,186.88 1286.08,186.4 1290,186.2 C1293.92,186 1298.98,185.75 1303.5,185.9 C1308.02,186.05 1310.32,187.18 1317.1,187.1 C1323.88,187.02 1335.17,185.9 1344.2,185.4 C1353.23,184.9 1363.03,184.28 1371.3,184.1 C1379.57,183.92 1387.85,183.73 1393.8,184.3 C1399.75,184.87 1402.48,186.35 1407,187.5 C1411.52,188.65 1416.23,191.08 1420.9,191.2 C1425.57,191.32 1430.32,189.48 1435,188.2 C1439.68,186.92 1442.9,184.73 1449,183.5 C1455.1,182.27 1465.6,180.88 1471.6,180.8 C1477.6,180.72 1481.23,182.1 1485,183 C1488.77,183.9 1489.67,185.22 1494.2,186.2 C1498.73,187.18 1506.57,188.68 1512.2,188.9 C1517.83,189.12 1522.73,188.1 1528,187.5 C1533.27,186.9 1537.63,185.65 1543.8,185.3 C1549.97,184.95 1558.22,185.45 1565,185.4 C1571.78,185.35 1579.5,185.13 1584.5,185 C1589.5,184.87 1591.52,184.8 1595,184.6 C1598.48,184.4 1601.62,183.93 1605.4,183.8 C1609.18,183.67 1612.57,183.33 1617.7,183.8 C1622.83,184.27 1630.55,186.22 1636.2,186.6 C1641.85,186.98 1645.6,186.1 1651.6,186.1 C1657.6,186.1 1667.07,186.43 1672.2,186.6 C1677.33,186.77 1677.27,187.22 1682.4,187.1 C1687.53,186.98 1696.15,185.9 1703,185.9 C1709.85,185.9 1716.67,186.9 1723.5,187.1 C1730.33,187.3 1738.6,187.3 1744,187.1 C1749.4,186.9 1753.92,186.1 1755.9,185.9"/>
</g>
<rect x="200.4" y="518.0" width="629" height="392.6" fill="none" stroke="#111" stroke-width="1.6"/>
<g stroke="#111" stroke-width="1.5" fill="none">
<path d="M200.4,867.1 L223.9,867.1"/>
<path d="M200.4,823.46 L213.9,823.46"/>
<path d="M200.4,779.82 L223.9,779.82"/>
<path d="M200.4,736.18 L213.9,736.18"/>
<path d="M200.4,692.54 L223.9,692.54"/>
<path d="M200.4,648.9 L213.9,648.9"/>
<path d="M200.4,605.26 L223.9,605.26"/>
<path d="M200.4,561.62 L213.9,561.62"/>
<path d="M305.23,910.6 L305.23,897.4"/>
<path d="M410.05,910.6 L410.05,888.1"/>
<path d="M514.88,910.6 L514.88,897.4"/>
<path d="M619.7,910.6 L619.7,888.1"/>
<path d="M724.52,910.6 L724.52,897.4"/>
</g>
<path d="M223.9,867.1 L829.4,867.1" stroke="#111" stroke-width="1.3" stroke-dasharray="4.4 4.3" fill="none"/>
<g font-family="'Liberation Sans', Arial, sans-serif" font-size="38.5" fill="#111" text-anchor="end">
<text transform="translate(190,534.28) scale(0.935,1)">80</text>
<text transform="translate(190,621.56) scale(0.935,1)">60</text>
<text transform="translate(190,708.84) scale(0.935,1)">40</text>
<text transform="translate(190,796.12) scale(0.935,1)">20</text>
<text transform="translate(190,883.4) scale(0.935,1)">0</text>
<text transform="translate(190,927.04) scale(0.935,1)">-10</text>
</g>
<g font-family="'Liberation Sans', Arial, sans-serif" font-size="38.5" fill="#111" text-anchor="middle">
<text transform="translate(199.9,966.4) scale(0.935,1)">200</text>
<text transform="translate(409.55,966.4) scale(0.935,1)">250</text>
<text transform="translate(619.2,966.4) scale(0.935,1)">300</text>
<text transform="translate(828.85,966.4) scale(0.935,1)">350</text>
</g>
<text font-family="'Liberation Sans', Arial, sans-serif" font-weight="bold" font-size="38" fill="#000" x="355.2" y="1014.2" textLength="318" lengthAdjust="spacing">Wavelength [nm]</text>
<text font-family="'Liberation Sans', Arial, sans-serif" font-weight="bold" font-size="39" fill="#000" x="74.5" y="751.4" textLength="58.5" lengthAdjust="spacingAndGlyphs">Int.</text>
<text font-family="'Liberation Serif', 'Times New Roman', serif" font-weight="bold" font-size="37.5" fill="#000" x="3" y="549.5">B</text>
<text font-family="'Liberation Serif', 'Times New Roman', serif" font-size="29" fill="#111" x="262.9" y="603.2"><tspan font-family="'Noto Sans CJK SC', sans-serif" font-size="26">△</tspan><tspan dx="1.45 0.45 2.0 0.4 -1.9 0 0">λ=15 nm</tspan></text>
<text font-family="'Liberation Serif', 'Times New Roman', serif" font-size="31" fill="#111" x="567.3" y="573" text-anchor="middle">a</text>
<text font-family="'Liberation Serif', 'Times New Roman', serif" font-size="31" fill="#111" x="567.3" y="647" text-anchor="middle">g</text>
<text transform="translate(567.5,613.75) scale(1.2,1)" font-size="30.8" font-family="'WenQuanYi Zen Hei', 'Noto Sans CJK SC', sans-serif" text-anchor="middle" fill="#111">↓</text>
<g stroke="#111" stroke-width="1.2" fill="none" stroke-linejoin="round">
<path d="M200.4,888.48 L202.5,888.48 L204.59,888.48 L206.69,888.48 L208.79,888.48 L210.88,888.48 L212.98,888.48 L215.08,888.48 L217.17,888.48 L219.27,888.48 L221.37,888.48 L223.46,888.48 L225.56,888.48 L227.65,888.48 L229.75,888.48 L231.85,888.48 L233.94,888.48 L236.04,888.49 L238.14,888.53 L240.23,888.58 L242.33,888.64 L244.43,888.72 L246.52,888.81 L248.62,888.91 L250.72,889.02 L252.81,889.13 L254.91,889.25 L257.01,889.36 L259.1,889.47 L261.2,889.58 L263.3,889.68 L265.39,889.77 L267.49,889.85 L269.58,889.92 L271.68,889.97 L273.78,890 L275.87,890.01 L277.97,890.01 L280.07,890.01 L282.16,890.01 L284.26,890.01 L286.36,890.01 L288.45,890.01 L290.55,890.01 L292.65,890.01 L294.74,890.01 L296.84,890.01 L298.94,890.01 L301.03,890.01 L303.13,890.01 L305.23,890.01 L307.32,890.01 L309.42,890.01 L311.51,890.01 L313.61,890.01 L315.71,890.01 L317.8,890.01 L319.9,890.01 L322,890.01 L324.09,890.01 L326.19,890.01 L328.29,890.01 L330.38,890.01 L332.48,890 L334.58,890 L336.67,890 L338.77,890 L340.87,890 L342.96,890 L345.06,890 L347.15,890 L349.25,890 L351.35,889.99 L353.44,889.99 L355.54,889.99 L357.64,889.99 L359.73,889.99 L361.83,889.98 L363.93,889.98 L366.02,889.98 L368.12,889.98 L370.22,889.97 L372.31,889.97 L374.41,889.96 L376.51,889.96 L378.6,889.95 L380.7,889.95 L382.8,889.94 L384.89,889.93 L386.99,889.92 L389.08,889.91 L391.18,889.9 L393.28,889.89 L395.37,889.88 L397.47,889.87 L399.57,889.85 L401.66,889.84 L403.76,889.82 L405.86,889.8 L407.95,889.78 L410.05,889.75 L412.15,889.73 L414.24,889.7 L416.34,889.66 L418.44,889.63 L420.53,889.59 L422.63,889.55 L424.73,889.5 L426.82,889.45 L428.92,889.39 L431.01,889.33 L433.11,889.26 L435.21,889.19 L437.3,889.1 L439.4,889.01 L441.5,888.92 L443.59,888.81 L445.69,888.7 L447.79,888.57 L449.88,888.44 L451.98,888.29 L454.08,888.13 L456.17,887.96 L458.27,887.78 L460.37,887.59 L462.46,887.38 L464.56,887.15 L466.66,886.91 L468.75,886.66 L470.85,886.39 L472.94,886.11 L475.04,885.81 L477.14,885.5 L479.23,885.17 L481.33,884.83 L483.43,884.48 L485.52,884.11 L487.62,883.73 L489.72,883.34 L491.81,882.94 L493.91,882.53 L496.01,882.1 L498.1,881.67 L500.2,881.22 L502.3,880.75 L504.39,880.27 L506.49,879.78 L508.59,879.26 L510.68,878.72 L512.78,878.14 L514.88,877.53 L516.97,876.88 L519.07,876.18 L521.16,875.42 L523.26,874.59 L525.36,873.68 L527.45,872.68 L529.55,871.57 L531.65,870.34 L533.74,868.97 L535.84,867.45 L537.94,865.75 L540.03,863.87 L542.13,861.77 L544.23,859.44 L546.32,856.86 L548.42,854.01 L550.52,850.85 L552.61,847.38 L554.71,843.56 L556.8,839.39 L558.9,834.83 L561,829.87 L563.09,824.5 L565.19,818.69 L567.29,812.45 L569.38,805.75 L571.48,798.6 L573.58,790.99 L575.67,782.93 L577.77,774.43 L579.87,765.5 L581.96,756.15 L584.06,746.42 L586.16,736.33 L588.25,725.93 L590.35,715.24 L592.45,704.33 L594.54,693.24 L596.64,682.03 L598.74,670.78 L600.83,659.53 L602.93,648.38 L605.02,637.38 L607.12,626.63 L609.22,616.19 L611.31,606.15 L613.41,596.58 L615.51,587.57 L617.6,579.18 L619.7,571.49 L621.8,564.56 L623.89,558.45 L625.99,553.22 L628.09,548.91 L630.18,545.56 L632.28,543.21 L634.38,541.88 L636.47,541.56 L638.57,541.92 L640.66,542.82 L642.76,544.28 L644.86,546.34 L646.95,549.02 L649.05,552.36 L651.15,556.37 L653.24,561.04 L655.34,566.23 L657.44,571.81 L659.53,577.63 L661.63,583.54 L663.73,589.4 L665.82,595.13 L667.92,600.81 L670.02,606.53 L672.11,612.39 L674.21,618.48 L676.31,624.9 L678.4,631.66 L680.5,638.57 L682.59,645.42 L684.69,652 L686.79,658.12 L688.88,663.83 L690.98,669.26 L693.08,674.57 L695.17,679.89 L697.27,685.36 L699.37,691.07 L701.46,696.96 L703.56,702.97 L705.66,709.02 L707.75,715.03 L709.85,720.94 L711.95,726.64 L714.04,731.97 L716.14,736.8 L718.24,740.98 L720.33,744.42 L722.43,747.22 L724.52,749.57 L726.62,751.61 L728.72,753.52 L730.81,755.38 L732.91,757.16 L735.01,758.85 L737.1,760.42 L739.2,761.83 L741.3,763.07 L743.39,764.11 L745.49,764.93 L747.59,765.54 L749.68,765.97 L751.78,766.25 L753.88,766.38 L755.97,766.41 L758.07,766.34 L760.17,766.2 L762.26,766.01 L764.36,765.77 L766.45,765.48 L768.55,765.14 L770.65,764.76 L772.74,764.35 L774.84,763.91 L776.94,763.44 L779.03,762.95 L781.13,762.44 L783.23,761.92 L785.32,761.38 L787.42,760.84 L789.52,760.29 L791.61,759.75 L793.71,759.21 L795.81,758.68 L797.9,758.17 L800,757.67 L802.1,757.2 L804.19,756.75 L806.29,756.33 L808.38,755.95 L810.48,755.61 L812.58,755.31 L814.67,755.06 L816.77,754.85 L818.87,754.71 L820.96,754.62 L823.06,754.6 L825.16,754.64 L827.25,754.75 L829.35,754.95"/>
<path d="M200.4,889.57 L202.5,889.57 L204.59,889.57 L206.69,889.57 L208.79,889.57 L210.88,889.57 L212.98,889.57 L215.08,889.57 L217.17,889.57 L219.27,889.57 L221.37,889.57 L223.46,889.57 L225.56,889.57 L227.65,889.57 L229.75,889.57 L231.85,889.57 L233.94,889.57 L236.04,889.57 L238.14,889.57 L240.23,889.57 L242.33,889.57 L244.43,889.57 L246.52,889.57 L248.62,889.57 L250.72,889.57 L252.81,889.57 L254.91,889.57 L257.01,889.57 L259.1,889.57 L261.2,889.57 L263.3,889.57 L265.39,889.57 L267.49,889.57 L269.58,889.57 L271.68,889.57 L273.78,889.57 L275.87,889.57 L277.97,889.57 L280.07,889.57 L282.16,889.57 L284.26,889.57 L286.36,889.57 L288.45,889.57 L290.55,889.57 L292.65,889.57 L294.74,889.57 L296.84,889.57 L298.94,889.57 L301.03,889.57 L303.13,889.57 L305.23,889.57 L307.32,889.57 L309.42,889.57 L311.51,889.57 L313.61,889.57 L315.71,889.57 L317.8,889.57 L319.9,889.57 L322,889.57 L324.09,889.57 L326.19,889.57 L328.29,889.57 L330.38,889.57 L332.48,889.57 L334.58,889.57 L336.67,889.57 L338.77,889.57 L340.87,889.57 L342.96,889.57 L345.06,889.56 L347.15,889.56 L349.25,889.56 L351.35,889.56 L353.44,889.56 L355.54,889.56 L357.64,889.56 L359.73,889.55 L361.83,889.55 L363.93,889.55 L366.02,889.55 L368.12,889.54 L370.22,889.54 L372.31,889.54 L374.41,889.53 L376.51,889.53 L378.6,889.52 L380.7,889.52 L382.8,889.51 L384.89,889.51 L386.99,889.5 L389.08,889.49 L391.18,889.48 L393.28,889.47 L395.37,889.46 L397.47,889.45 L399.57,889.44 L401.66,889.42 L403.76,889.41 L405.86,889.39 L407.95,889.37 L410.05,889.35 L412.15,889.33 L414.24,889.3 L416.34,889.27 L418.44,889.24 L420.53,889.21 L422.63,889.17 L424.73,889.13 L426.82,889.09 L428.92,889.04 L431.01,888.98 L433.11,888.93 L435.21,888.86 L437.3,888.79 L439.4,888.71 L441.5,888.63 L443.59,888.54 L445.69,888.44 L447.79,888.33 L449.88,888.22 L451.98,888.09 L454.08,887.95 L456.17,887.81 L458.27,887.65 L460.37,887.48 L462.46,887.3 L464.56,887.11 L466.66,886.9 L468.75,886.68 L470.85,886.45 L472.94,886.21 L475.04,885.95 L477.14,885.68 L479.23,885.4 L481.33,885.11 L483.43,884.8 L485.52,884.49 L487.62,884.16 L489.72,883.83 L491.81,883.48 L493.91,883.13 L496.01,882.76 L498.1,882.39 L500.2,882.01 L502.3,881.61 L504.39,881.2 L506.49,880.78 L508.59,880.34 L510.68,879.88 L512.78,879.39 L514.88,878.87 L516.97,878.32 L519.07,877.72 L521.16,877.07 L523.26,876.36 L525.36,875.59 L527.45,874.73 L529.55,873.78 L531.65,872.72 L533.74,871.55 L535.84,870.24 L537.94,868.77 L540.03,867.14 L542.13,865.32 L544.23,863.29 L546.32,861.03 L548.42,858.53 L550.52,855.76 L552.61,852.7 L554.71,849.32 L556.8,845.62 L558.9,841.56 L561,837.14 L563.09,832.33 L565.19,827.12 L567.29,821.49 L569.38,815.44 L571.48,808.96 L573.58,802.04 L575.67,794.68 L577.77,786.89 L579.87,778.68 L581.96,770.06 L584.06,761.05 L586.16,751.68 L588.25,741.97 L590.35,731.97 L592.45,721.7 L594.54,711.23 L596.64,700.6 L598.74,689.87 L600.83,679.11 L602.93,668.37 L605.02,657.73 L607.12,647.26 L609.22,637.03 L611.31,627.12 L613.41,617.6 L615.51,608.55 L617.6,600.05 L619.7,592.15 L621.8,584.94 L623.89,578.46 L625.99,572.78 L628.09,567.96 L630.18,564.02 L632.28,561.01 L634.38,558.95 L636.47,557.87 L638.57,557.73 L640.66,558.21 L642.76,559.22 L644.86,560.79 L646.95,562.92 L649.05,565.65 L651.15,568.97 L653.24,572.91 L655.34,577.41 L657.44,582.37 L659.53,587.66 L661.63,593.15 L663.73,598.73 L665.82,604.26 L667.92,609.72 L670.02,615.16 L672.11,620.65 L674.21,626.27 L676.31,632.09 L678.4,638.18 L680.5,644.52 L682.59,650.95 L684.69,657.29 L686.79,663.37 L688.88,669.08 L690.98,674.47 L693.08,679.67 L695.17,684.78 L697.27,689.93 L699.37,695.21 L701.46,700.66 L703.56,706.24 L705.66,711.88 L707.75,717.54 L709.85,723.15 L711.95,728.66 L714.04,733.96 L716.14,738.93 L718.24,743.47 L720.33,747.44 L722.43,750.81 L724.52,753.67 L726.62,756.16 L728.72,758.4 L730.81,760.5 L732.91,762.51 L735.01,764.39 L737.1,766.1 L739.2,767.64 L741.3,768.99 L743.39,770.14 L745.49,771.08 L747.59,771.81 L749.68,772.36 L751.78,772.74 L753.88,772.99 L755.97,773.12 L758.07,773.15 L760.17,773.1 L762.26,772.99 L764.36,772.84 L766.45,772.64 L768.55,772.41 L770.65,772.14 L772.74,771.84 L774.84,771.51 L776.94,771.15 L779.03,770.76 L781.13,770.34 L783.23,769.91 L785.32,769.45 L787.42,768.99 L789.52,768.52 L791.61,768.04 L793.71,767.45 L795.81,766.88 L797.9,766.3 L800,765.74 L802.1,765.19 L804.19,764.66 L806.29,764.15 L808.38,763.66 L810.48,763.2 L812.58,762.78 L814.67,762.39 L816.77,762.05 L818.87,761.74 L820.96,761.49 L823.06,761.29 L825.16,761.14 L827.25,761.05 L829.35,761.03"/>
<path d="M200.4,887.61 L202.5,887.61 L204.59,887.61 L206.69,887.61 L208.79,887.61 L210.88,887.61 L212.98,887.61 L215.08,887.61 L217.17,887.61 L219.27,887.61 L221.37,887.61 L223.46,887.61 L225.56,887.61 L227.65,887.61 L229.75,887.61 L231.85,887.61 L233.94,887.61 L236.04,887.62 L238.14,887.65 L240.23,887.7 L242.33,887.77 L244.43,887.85 L246.52,887.94 L248.62,888.04 L250.72,888.15 L252.81,888.26 L254.91,888.37 L257.01,888.49 L259.1,888.6 L261.2,888.71 L263.3,888.81 L265.39,888.9 L267.49,888.98 L269.58,889.05 L271.68,889.1 L273.78,889.13 L275.87,889.14 L277.97,889.14 L280.07,889.14 L282.16,889.14 L284.26,889.14 L286.36,889.14 L288.45,889.14 L290.55,889.14 L292.65,889.14 L294.74,889.14 L296.84,889.14 L298.94,889.14 L301.03,889.14 L303.13,889.14 L305.23,889.14 L307.32,889.14 L309.42,889.14 L311.51,889.14 L313.61,889.14 L315.71,889.14 L317.8,889.14 L319.9,889.14 L322,889.14 L324.09,889.14 L326.19,889.13 L328.29,889.13 L330.38,889.13 L332.48,889.13 L334.58,889.13 L336.67,889.13 L338.77,889.13 L340.87,889.13 L342.96,889.13 L345.06,889.13 L347.15,889.13 L349.25,889.13 L351.35,889.13 L353.44,889.13 L355.54,889.12 L357.64,889.12 L359.73,889.12 L361.83,889.12 L363.93,889.12 L366.02,889.11 L368.12,889.11 L370.22,889.11 L372.31,889.11 L374.41,889.1 L376.51,889.1 L378.6,889.1 L380.7,889.09 L382.8,889.09 L384.89,889.08 L386.99,889.07 L389.08,889.07 L391.18,889.06 L393.28,889.05 L395.37,889.04 L397.47,889.03 L399.57,889.02 L401.66,889.01 L403.76,889 L405.86,888.98 L407.95,888.97 L410.05,888.95 L412.15,888.93 L414.24,888.91 L416.34,888.89 L418.44,888.86 L420.53,888.83 L422.63,888.8 L424.73,888.77 L426.82,888.73 L428.92,888.69 L431.01,888.64 L433.11,888.59 L435.21,888.54 L437.3,888.48 L439.4,888.41 L441.5,888.34 L443.59,888.27 L445.69,888.18 L447.79,888.09 L449.88,887.99 L451.98,887.89 L454.08,887.77 L456.17,887.65 L458.27,887.52 L460.37,887.37 L462.46,887.22 L464.56,887.06 L466.66,886.88 L468.75,886.7 L470.85,886.5 L472.94,886.29 L475.04,886.08 L477.14,885.85 L479.23,885.61 L481.33,885.36 L483.43,885.1 L485.52,884.83 L487.62,884.54 L489.72,884.25 L491.81,883.95 L493.91,883.64 L496.01,883.32 L498.1,882.99 L500.2,882.64 L502.3,882.29 L504.39,881.91 L506.49,881.52 L508.59,881.11 L510.68,880.67 L512.78,880.2 L514.88,879.7 L516.97,879.15 L519.07,878.56 L521.16,877.91 L523.26,877.19 L525.36,876.4 L527.45,875.52 L529.55,874.54 L531.65,873.44 L533.74,872.22 L535.84,870.86 L537.94,869.33 L540.03,867.63 L542.13,865.73 L544.23,863.61 L546.32,861.26 L548.42,858.66 L550.52,855.78 L552.61,852.61 L554.71,849.13 L556.8,845.31 L558.9,841.14 L561,836.6 L563.09,831.68 L565.19,826.36 L567.29,820.64 L569.38,814.5 L571.48,807.94 L573.58,800.97 L575.67,793.58 L577.77,785.78 L579.87,777.58 L581.96,769.01 L584.06,760.08 L586.16,750.83 L588.25,741.28 L590.35,731.48 L592.45,721.47 L594.54,711.29 L596.64,701.01 L598.74,690.68 L600.83,680.36 L602.93,670.13 L605.02,660.04 L607.12,650.17 L609.22,640.59 L611.31,631.38 L613.41,622.6 L615.51,614.33 L617.6,606.63 L619.7,599.57 L621.8,593.21 L623.89,587.6 L625.99,582.8 L628.09,578.85 L630.18,575.78 L632.28,573.62 L634.38,572.4 L636.47,572.1 L638.57,572.48 L640.66,573.38 L642.76,574.83 L644.86,576.82 L646.95,579.35 L649.05,582.44 L651.15,586.07 L653.24,590.23 L655.34,594.83 L657.44,599.75 L659.53,604.89 L661.63,610.16 L663.73,615.44 L665.82,620.67 L667.92,625.9 L670.02,631.16 L672.11,636.5 L674.21,641.99 L676.31,647.68 L678.4,653.57 L680.5,659.55 L682.59,665.49 L684.69,671.26 L686.79,676.74 L688.88,681.96 L690.98,687 L693.08,691.96 L695.17,696.92 L697.27,701.95 L699.37,707.07 L701.46,712.27 L703.56,717.5 L705.66,722.72 L707.75,727.89 L709.85,732.97 L711.95,737.88 L714.04,742.53 L716.14,746.83 L718.24,750.68 L720.33,754.03 L722.43,756.93 L724.52,759.48 L726.62,761.78 L728.72,763.9 L730.81,765.88 L732.91,767.69 L735.01,769.29 L737.1,770.68 L739.2,771.85 L741.3,772.81 L743.39,773.55 L745.49,774.1 L747.59,774.47 L749.68,774.71 L751.78,774.82 L753.88,774.84 L755.97,774.78 L758.07,774.67 L760.17,774.51 L762.26,774.32 L764.36,774.11 L766.45,773.89 L768.55,773.67 L770.65,773.44 L772.74,773.2 L774.84,772.92 L776.94,772.6 L779.03,772.27 L781.13,771.91 L783.23,771.53 L785.32,771.13 L787.42,770.72 L789.52,770.3 L791.61,769.77 L793.71,769.21 L795.81,768.66 L797.9,768.1 L800,767.56 L802.1,767.03 L804.19,766.51 L806.29,766.01 L808.38,765.54 L810.48,765.09 L812.58,764.67 L814.67,764.28 L816.77,763.93 L818.87,763.62 L820.96,763.36 L823.06,763.14 L825.16,762.97 L827.25,762.86 L829.35,762.8"/>
<path d="M200.4,888.7 L202.5,888.7 L204.59,888.7 L206.69,888.7 L208.79,888.7 L210.88,888.7 L212.98,888.7 L215.08,888.7 L217.17,888.7 L219.27,888.7 L221.37,888.7 L223.46,888.7 L225.56,888.7 L227.65,888.7 L229.75,888.7 L231.85,888.7 L233.94,888.7 L236.04,888.7 L238.14,888.7 L240.23,888.7 L242.33,888.7 L244.43,888.7 L246.52,888.7 L248.62,888.7 L250.72,888.7 L252.81,888.7 L254.91,888.7 L257.01,888.7 L259.1,888.7 L261.2,888.7 L263.3,888.7 L265.39,888.7 L267.49,888.7 L269.58,888.7 L271.68,888.7 L273.78,888.7 L275.87,888.7 L277.97,888.7 L280.07,888.7 L282.16,888.7 L284.26,888.7 L286.36,888.7 L288.45,888.7 L290.55,888.7 L292.65,888.7 L294.74,888.7 L296.84,888.7 L298.94,888.7 L301.03,888.7 L303.13,888.7 L305.23,888.7 L307.32,888.7 L309.42,888.7 L311.51,888.7 L313.61,888.7 L315.71,888.7 L317.8,888.7 L319.9,888.7 L322,888.7 L324.09,888.7 L326.19,888.7 L328.29,888.7 L330.38,888.7 L332.48,888.7 L334.58,888.7 L336.67,888.7 L338.77,888.7 L340.87,888.7 L342.96,888.7 L345.06,888.69 L347.15,888.69 L349.25,888.69 L351.35,888.69 L353.44,888.69 L355.54,888.69 L357.64,888.69 L359.73,888.69 L361.83,888.69 L363.93,888.68 L366.02,888.68 L368.12,888.68 L370.22,888.68 L372.31,888.68 L374.41,888.67 L376.51,888.67 L378.6,888.67 L380.7,888.66 L382.8,888.66 L384.89,888.66 L386.99,888.65 L389.08,888.64 L391.18,888.64 L393.28,888.63 L395.37,888.63 L397.47,888.62 L399.57,888.61 L401.66,888.6 L403.76,888.59 L405.86,888.58 L407.95,888.56 L410.05,888.55 L412.15,888.53 L414.24,888.52 L416.34,888.5 L418.44,888.48 L420.53,888.45 L422.63,888.43 L424.73,888.4 L426.82,888.37 L428.92,888.33 L431.01,888.3 L433.11,888.26 L435.21,888.21 L437.3,888.17 L439.4,888.11 L441.5,888.06 L443.59,887.99 L445.69,887.93 L447.79,887.85 L449.88,887.77 L451.98,887.69 L454.08,887.59 L456.17,887.49 L458.27,887.38 L460.37,887.27 L462.46,887.14 L464.56,887.01 L466.66,886.87 L468.75,886.72 L470.85,886.56 L472.94,886.39 L475.04,886.21 L477.14,886.02 L479.23,885.82 L481.33,885.62 L483.43,885.4 L485.52,885.18 L487.62,884.95 L489.72,884.7 L491.81,884.45 L493.91,884.19 L496.01,883.92 L498.1,883.64 L500.2,883.34 L502.3,883.03 L504.39,882.71 L506.49,882.36 L508.59,882 L510.68,881.6 L512.78,881.18 L514.88,880.72 L516.97,880.22 L519.07,879.66 L521.16,879.05 L523.26,878.37 L525.36,877.62 L527.45,876.77 L529.55,875.83 L531.65,874.77 L533.74,873.58 L535.84,872.25 L537.94,870.76 L540.03,869.09 L542.13,867.23 L544.23,865.16 L546.32,862.85 L548.42,860.28 L550.52,857.45 L552.61,854.32 L554.71,850.88 L556.8,847.11 L558.9,842.99 L561,838.51 L563.09,833.65 L565.19,828.4 L567.29,822.74 L569.38,816.67 L571.48,810.19 L573.58,803.29 L575.67,795.99 L577.77,788.27 L579.87,780.17 L581.96,771.69 L584.06,762.86 L586.16,753.71 L588.25,744.27 L590.35,734.57 L592.45,724.66 L594.54,714.6 L596.64,704.43 L598.74,694.21 L600.83,684.01 L602.93,673.88 L605.02,663.9 L607.12,654.14 L609.22,644.66 L611.31,635.55 L613.41,626.86 L615.51,618.68 L617.6,611.06 L619.7,604.08 L621.8,597.78 L623.89,592.24 L625.99,587.49 L628.09,583.58 L630.18,580.54 L632.28,578.41 L634.38,577.19 L636.47,576.9 L638.57,577.28 L640.66,578.19 L642.76,579.63 L644.86,581.61 L646.95,584.12 L649.05,587.16 L651.15,590.74 L653.24,594.82 L655.34,599.32 L657.44,604.14 L659.53,609.18 L661.63,614.34 L663.73,619.53 L665.82,624.69 L667.92,629.84 L670.02,635.03 L672.11,640.29 L674.21,645.68 L676.31,651.25 L678.4,657.01 L680.5,662.85 L682.59,668.65 L684.69,674.29 L686.79,679.67 L688.88,684.81 L690.98,689.79 L693.08,694.69 L695.17,699.6 L697.27,704.56 L699.37,709.63 L701.46,714.77 L703.56,719.94 L705.66,725.11 L707.75,730.24 L709.85,735.29 L711.95,740.19 L714.04,744.86 L716.14,749.21 L718.24,753.15 L720.33,756.63 L722.43,759.7 L724.52,762.45 L726.62,764.95 L728.72,767.27 L730.81,769.44 L732.91,771.42 L735.01,773.19 L737.1,774.72 L739.2,776.01 L741.3,777.09 L743.39,777.95 L745.49,778.6 L747.59,779.09 L749.68,779.43 L751.78,779.65 L753.88,779.78 L755.97,779.81 L758.07,779.79 L760.17,779.71 L762.26,779.59 L764.36,779.45 L766.45,779.28 L768.55,779.1 L770.65,778.9 L772.74,778.68 L774.84,778.43 L776.94,778.14 L779.03,777.83 L781.13,777.49 L783.23,777.13 L785.32,776.76 L787.42,776.37 L789.52,775.97 L791.61,775.35 L793.71,774.66 L795.81,773.98 L797.9,773.3 L800,772.63 L802.1,771.97 L804.19,771.32 L806.29,770.69 L808.38,770.08 L810.48,769.49 L812.58,768.93 L814.67,768.4 L816.77,767.91 L818.87,767.45 L820.96,767.04 L823.06,766.67 L825.16,766.34 L827.25,766.07 L829.35,765.86"/>
<path d="M200.4,888.27 L202.5,888.27 L204.59,888.27 L206.69,888.27 L208.79,888.27 L210.88,888.27 L212.98,888.27 L215.08,888.27 L217.17,888.27 L219.27,888.27 L221.37,888.27 L223.46,888.27 L225.56,888.27 L227.65,888.27 L229.75,888.27 L231.85,888.27 L233.94,888.27 L236.04,888.27 L238.14,888.27 L240.23,888.27 L242.33,888.27 L244.43,888.27 L246.52,888.27 L248.62,888.27 L250.72,888.27 L252.81,888.27 L254.91,888.27 L257.01,888.27 L259.1,888.27 L261.2,888.27 L263.3,888.27 L265.39,888.27 L267.49,888.27 L269.58,888.27 L271.68,888.27 L273.78,888.27 L275.87,888.27 L277.97,888.27 L280.07,888.27 L282.16,888.27 L284.26,888.27 L286.36,888.27 L288.45,888.27 L290.55,888.26 L292.65,888.26 L294.74,888.26 L296.84,888.26 L298.94,888.26 L301.03,888.26 L303.13,888.26 L305.23,888.26 L307.32,888.26 L309.42,888.26 L311.51,888.26 L313.61,888.26 L315.71,888.26 L317.8,888.26 L319.9,888.26 L322,888.26 L324.09,888.26 L326.19,888.26 L328.29,888.26 L330.38,888.26 L332.48,888.26 L334.58,888.26 L336.67,888.26 L338.77,888.26 L340.87,888.26 L342.96,888.26 L345.06,888.26 L347.15,888.26 L349.25,888.26 L351.35,888.26 L353.44,888.26 L355.54,888.26 L357.64,888.26 L359.73,888.25 L361.83,888.25 L363.93,888.25 L366.02,888.25 L368.12,888.25 L370.22,888.25 L372.31,888.25 L374.41,888.24 L376.51,888.24 L378.6,888.24 L380.7,888.24 L382.8,888.23 L384.89,888.23 L386.99,888.23 L389.08,888.22 L391.18,888.22 L393.28,888.21 L395.37,888.21 L397.47,888.2 L399.57,888.19 L401.66,888.19 L403.76,888.18 L405.86,888.17 L407.95,888.16 L410.05,888.15 L412.15,888.14 L414.24,888.12 L416.34,888.11 L418.44,888.09 L420.53,888.07 L422.63,888.05 L424.73,888.03 L426.82,888.01 L428.92,887.98 L431.01,887.95 L433.11,887.92 L435.21,887.89 L437.3,887.85 L439.4,887.81 L441.5,887.77 L443.59,887.72 L445.69,887.67 L447.79,887.61 L449.88,887.55 L451.98,887.48 L454.08,887.41 L456.17,887.33 L458.27,887.25 L460.37,887.16 L462.46,887.06 L464.56,886.96 L466.66,886.85 L468.75,886.73 L470.85,886.61 L472.94,886.48 L475.04,886.34 L477.14,886.19 L479.23,886.04 L481.33,885.88 L483.43,885.71 L485.52,885.53 L487.62,885.35 L489.72,885.16 L491.81,884.96 L493.91,884.75 L496.01,884.53 L498.1,884.3 L500.2,884.05 L502.3,883.79 L504.39,883.52 L506.49,883.22 L508.59,882.91 L510.68,882.57 L512.78,882.19 L514.88,881.78 L516.97,881.33 L519.07,880.82 L521.16,880.26 L523.26,879.63 L525.36,878.93 L527.45,878.14 L529.55,877.25 L531.65,876.25 L533.74,875.12 L535.84,873.85 L537.94,872.43 L540.03,870.84 L542.13,869.05 L544.23,867.06 L546.32,864.84 L548.42,862.38 L550.52,859.65 L552.61,856.64 L554.71,853.32 L556.8,849.69 L558.9,845.72 L561,841.39 L563.09,836.7 L565.19,831.63 L567.29,826.17 L569.38,820.31 L571.48,814.05 L573.58,807.39 L575.67,800.34 L577.77,792.89 L579.87,785.06 L581.96,776.87 L584.06,768.34 L586.16,759.5 L588.25,750.38 L590.35,741.01 L592.45,731.44 L594.54,721.72 L596.64,711.89 L598.74,702.02 L600.83,692.16 L602.93,682.38 L605.02,672.74 L607.12,663.3 L609.22,654.15 L611.31,645.34 L613.41,636.95 L615.51,629.05 L617.6,621.69 L619.7,614.94 L621.8,608.86 L623.89,603.5 L625.99,598.91 L628.09,595.13 L630.18,592.2 L632.28,590.14 L634.38,588.97 L636.47,588.69 L638.57,589.07 L640.66,589.98 L642.76,591.41 L644.86,593.36 L646.95,595.82 L649.05,598.77 L651.15,602.2 L653.24,606.08 L655.34,610.35 L657.44,614.91 L659.53,619.69 L661.63,624.6 L663.73,629.57 L665.82,634.54 L667.92,639.52 L670.02,644.53 L672.11,649.59 L674.21,654.75 L676.31,660.04 L678.4,665.46 L680.5,670.94 L682.59,676.39 L684.69,681.72 L686.79,686.85 L688.88,691.8 L690.98,696.63 L693.08,701.4 L695.17,706.17 L697.27,710.97 L699.37,715.85 L701.46,720.76 L703.56,725.7 L705.66,730.62 L707.75,735.51 L709.85,740.34 L711.95,745.05 L714.04,749.58 L716.14,753.85 L718.24,757.81 L720.33,761.4 L722.43,764.66 L724.52,767.65 L726.62,770.41 L728.72,772.97 L730.81,775.35 L732.91,777.51 L735.01,779.41 L737.1,781.03 L739.2,782.39 L741.3,783.52 L743.39,784.42 L745.49,785.12 L747.59,785.65 L749.68,786.06 L751.78,786.35 L753.88,786.54 L755.97,786.66 L758.07,786.7 L760.17,786.7 L762.26,786.66 L764.36,786.58 L766.45,786.48 L768.55,786.36 L770.65,786.23 L772.74,786.08 L774.84,785.88 L776.94,785.66 L779.03,785.4 L781.13,785.12 L783.23,784.82 L785.32,784.5 L787.42,784.17 L789.52,783.82 L791.61,783.48 L793.71,783.13 L795.81,782.78 L797.9,782.43 L800,782.09 L802.1,781.75 L804.19,781.42 L806.29,781.11 L808.38,780.81 L810.48,780.53 L812.58,780.27 L814.67,780.03 L816.77,779.83 L818.87,779.66 L820.96,779.52 L823.06,779.42 L825.16,779.36 L827.25,779.35 L829.35,779.38"/>
<path d="M200.4,887.83 L202.5,887.83 L204.59,887.83 L206.69,887.83 L208.79,887.83 L210.88,887.83 L212.98,887.83 L215.08,887.83 L217.17,887.83 L219.27,887.83 L221.37,887.83 L223.46,887.83 L225.56,887.83 L227.65,887.83 L229.75,887.83 L231.85,887.83 L233.94,887.83 L236.04,887.83 L238.14,887.83 L240.23,887.83 L242.33,887.83 L244.43,887.83 L246.52,887.83 L248.62,887.83 L250.72,887.83 L252.81,887.83 L254.91,887.83 L257.01,887.83 L259.1,887.83 L261.2,887.83 L263.3,887.83 L265.39,887.83 L267.49,887.83 L269.58,887.83 L271.68,887.83 L273.78,887.83 L275.87,887.83 L277.97,887.83 L280.07,887.83 L282.16,887.83 L284.26,887.83 L286.36,887.83 L288.45,887.83 L290.55,887.83 L292.65,887.83 L294.74,887.83 L296.84,887.83 L298.94,887.83 L301.03,887.83 L303.13,887.83 L305.23,887.83 L307.32,887.83 L309.42,887.83 L311.51,887.83 L313.61,887.83 L315.71,887.83 L317.8,887.83 L319.9,887.83 L322,887.83 L324.09,887.83 L326.19,887.83 L328.29,887.83 L330.38,887.83 L332.48,887.83 L334.58,887.83 L336.67,887.83 L338.77,887.83 L340.87,887.83 L342.96,887.83 L345.06,887.83 L347.15,887.82 L349.25,887.82 L351.35,887.82 L353.44,887.82 L355.54,887.82 L357.64,887.82 L359.73,887.82 L361.83,887.82 L363.93,887.82 L366.02,887.82 L368.12,887.82 L370.22,887.82 L372.31,887.82 L374.41,887.81 L376.51,887.81 L378.6,887.81 L380.7,887.81 L382.8,887.81 L384.89,887.8 L386.99,887.8 L389.08,887.8 L391.18,887.8 L393.28,887.79 L395.37,887.79 L397.47,887.78 L399.57,887.78 L401.66,887.77 L403.76,887.77 L405.86,887.76 L407.95,887.75 L410.05,887.75 L412.15,887.74 L414.24,887.73 L416.34,887.72 L418.44,887.71 L420.53,887.69 L422.63,887.68 L424.73,887.67 L426.82,887.65 L428.92,887.63 L431.01,887.61 L433.11,887.59 L435.21,887.57 L437.3,887.54 L439.4,887.51 L441.5,887.48 L443.59,887.45 L445.69,887.41 L447.79,887.37 L449.88,887.33 L451.98,887.28 L454.08,887.23 L456.17,887.18 L458.27,887.12 L460.37,887.05 L462.46,886.99 L464.56,886.91 L466.66,886.84 L468.75,886.75 L470.85,886.67 L472.94,886.57 L475.04,886.47 L477.14,886.37 L479.23,886.26 L481.33,886.14 L483.43,886.02 L485.52,885.89 L487.62,885.76 L489.72,885.61 L491.81,885.46 L493.91,885.31 L496.01,885.14 L498.1,884.96 L500.2,884.77 L502.3,884.56 L504.39,884.34 L506.49,884.1 L508.59,883.84 L510.68,883.55 L512.78,883.23 L514.88,882.87 L516.97,882.47 L519.07,882.03 L521.16,881.52 L523.26,880.96 L525.36,880.31 L527.45,879.59 L529.55,878.77 L531.65,877.84 L533.74,876.79 L535.84,875.61 L537.94,874.28 L540.03,872.78 L542.13,871.11 L544.23,869.23 L546.32,867.14 L548.42,864.82 L550.52,862.25 L552.61,859.4 L554.71,856.27 L556.8,852.84 L558.9,849.09 L561,845 L563.09,840.56 L565.19,835.76 L567.29,830.6 L569.38,825.05 L571.48,819.13 L573.58,812.82 L575.67,806.14 L577.77,799.09 L579.87,791.68 L581.96,783.93 L584.06,775.85 L586.16,767.48 L588.25,758.84 L590.35,749.97 L592.45,740.91 L594.54,731.7 L596.64,722.4 L598.74,713.05 L600.83,703.71 L602.93,694.44 L605.02,685.31 L607.12,676.38 L609.22,667.71 L611.31,659.37 L613.41,651.42 L615.51,643.93 L617.6,636.96 L619.7,630.57 L621.8,624.81 L623.89,619.74 L625.99,615.39 L628.09,611.81 L630.18,609.03 L632.28,607.08 L634.38,605.97 L636.47,605.71 L638.57,606.09 L640.66,607.01 L642.76,608.44 L644.86,610.35 L646.95,612.72 L649.05,615.52 L651.15,618.75 L653.24,622.35 L655.34,626.28 L657.44,630.47 L659.53,634.88 L661.63,639.43 L663.73,644.08 L665.82,648.77 L667.92,653.5 L670.02,658.25 L672.11,663.03 L674.21,667.85 L676.31,672.73 L678.4,677.67 L680.5,682.63 L682.59,687.57 L684.69,692.45 L686.79,697.22 L688.88,701.9 L690.98,706.51 L693.08,711.09 L695.17,715.66 L697.27,720.26 L699.37,724.91 L701.46,729.6 L703.56,734.32 L705.66,739.05 L707.75,743.79 L709.85,748.5 L711.95,753.17 L714.04,757.74 L716.14,762.19 L718.24,766.45 L720.33,770.5 L722.43,774.35 L724.52,778.01 L726.62,781.47 L728.72,784.73 L730.81,787.76 L732.91,790.51 L735.01,792.95 L737.1,795.05 L739.2,796.85 L741.3,798.38 L743.39,799.66 L745.49,800.74 L747.59,801.64 L749.68,802.41 L751.78,803.07 L753.88,803.61 L755.97,804.06 L758.07,804.41 L760.17,804.69 L762.26,804.9 L764.36,805.04 L766.45,805.12 L768.55,805.14 L770.65,805.11 L772.74,805.05 L774.84,804.94 L776.94,804.81 L779.03,804.64 L781.13,804.44 L783.23,804.22 L785.32,803.98 L787.42,803.72 L789.52,803.44 L791.61,803.29 L793.71,803.16 L795.81,803.02 L797.9,802.88 L800,802.73 L802.1,802.59 L804.19,802.45 L806.29,802.32 L808.38,802.19 L810.48,802.08 L812.58,801.98 L814.67,801.9 L816.77,801.84 L818.87,801.81 L820.96,801.8 L823.06,801.82 L825.16,801.87 L827.25,801.95 L829.35,802.08"/>
<path d="M200.4,887.39 L202.5,887.39 L204.59,887.39 L206.69,887.39 L208.79,887.39 L210.88,887.39 L212.98,887.39 L215.08,887.39 L217.17,887.39 L219.27,887.39 L221.37,887.39 L223.46,887.39 L225.56,887.39 L227.65,887.39 L229.75,887.39 L231.85,887.39 L233.94,887.39 L236.04,887.39 L238.14,887.39 L240.23,887.39 L242.33,887.39 L244.43,887.39 L246.52,887.39 L248.62,887.39 L250.72,887.39 L252.81,887.39 L254.91,887.39 L257.01,887.39 L259.1,887.39 L261.2,887.39 L263.3,887.39 L265.39,887.39 L267.49,887.39 L269.58,887.39 L271.68,887.39 L273.78,887.39 L275.87,887.39 L277.97,887.39 L280.07,887.39 L282.16,887.39 L284.26,887.39 L286.36,887.39 L288.45,887.39 L290.55,887.39 L292.65,887.39 L294.74,887.39 L296.84,887.39 L298.94,887.39 L301.03,887.39 L303.13,887.39 L305.23,887.39 L307.32,887.39 L309.42,887.39 L311.51,887.39 L313.61,887.39 L315.71,887.39 L317.8,887.39 L319.9,887.39 L322,887.39 L324.09,887.39 L326.19,887.39 L328.29,887.39 L330.38,887.39 L332.48,887.39 L334.58,887.39 L336.67,887.39 L338.77,887.39 L340.87,887.39 L342.96,887.39 L345.06,887.39 L347.15,887.39 L349.25,887.39 L351.35,887.39 L353.44,887.39 L355.54,887.39 L357.64,887.39 L359.73,887.39 L361.83,887.39 L363.93,887.39 L366.02,887.39 L368.12,887.39 L370.22,887.39 L372.31,887.38 L374.41,887.38 L376.51,887.38 L378.6,887.38 L380.7,887.38 L382.8,887.38 L384.89,887.38 L386.99,887.38 L389.08,887.38 L391.18,887.37 L393.28,887.37 L395.37,887.37 L397.47,887.37 L399.57,887.36 L401.66,887.36 L403.76,887.36 L405.86,887.35 L407.95,887.35 L410.05,887.35 L412.15,887.34 L414.24,887.34 L416.34,887.33 L418.44,887.32 L420.53,887.32 L422.63,887.31 L424.73,887.3 L426.82,887.29 L428.92,887.28 L431.01,887.27 L433.11,887.26 L435.21,887.24 L437.3,887.23 L439.4,887.21 L441.5,887.19 L443.59,887.17 L445.69,887.15 L447.79,887.13 L449.88,887.11 L451.98,887.08 L454.08,887.05 L456.17,887.02 L458.27,886.98 L460.37,886.95 L462.46,886.91 L464.56,886.87 L466.66,886.82 L468.75,886.77 L470.85,886.72 L472.94,886.67 L475.04,886.61 L477.14,886.54 L479.23,886.48 L481.33,886.41 L483.43,886.33 L485.52,886.25 L487.62,886.16 L489.72,886.07 L491.81,885.97 L493.91,885.86 L496.01,885.75 L498.1,885.62 L500.2,885.48 L502.3,885.33 L504.39,885.16 L506.49,884.98 L508.59,884.77 L510.68,884.53 L512.78,884.26 L514.88,883.96 L516.97,883.62 L519.07,883.23 L521.16,882.78 L523.26,882.27 L525.36,881.69 L527.45,881.03 L529.55,880.28 L531.65,879.42 L533.74,878.45 L535.84,877.35 L537.94,876.11 L540.03,874.71 L542.13,873.14 L544.23,871.39 L546.32,869.42 L548.42,867.24 L550.52,864.81 L552.61,862.13 L554.71,859.18 L556.8,855.94 L558.9,852.4 L561,848.54 L563.09,844.35 L565.19,839.82 L567.29,834.94 L569.38,829.7 L571.48,824.1 L573.58,818.14 L575.67,811.83 L577.77,805.16 L579.87,798.16 L581.96,790.83 L584.06,783.19 L586.16,775.27 L588.25,767.11 L590.35,758.72 L592.45,750.15 L594.54,741.44 L596.64,732.64 L598.74,723.8 L600.83,714.97 L602.93,706.21 L605.02,697.57 L607.12,689.12 L609.22,680.93 L611.31,673.04 L613.41,665.52 L615.51,658.44 L617.6,651.85 L619.7,645.8 L621.8,640.36 L623.89,635.56 L625.99,631.45 L628.09,628.06 L630.18,625.44 L632.28,623.59 L634.38,622.54 L636.47,622.29 L638.57,622.68 L640.66,623.6 L642.76,625.02 L644.86,626.89 L646.95,629.18 L649.05,631.85 L651.15,634.87 L653.24,638.2 L655.34,641.8 L657.44,645.64 L659.53,649.68 L661.63,653.88 L663.73,658.21 L665.82,662.64 L667.92,667.12 L670.02,671.62 L672.11,676.12 L674.21,680.61 L676.31,685.09 L678.4,689.56 L680.5,694.02 L682.59,698.47 L684.69,702.9 L686.79,707.33 L688.88,711.74 L690.98,716.14 L693.08,720.53 L695.17,724.9 L697.27,729.27 L699.37,733.63 L701.46,737.99 L703.56,742.34 L705.66,746.68 L707.75,751.03 L709.85,755.37 L711.95,759.7 L714.04,764.01 L716.14,768.27 L718.24,772.47 L720.33,776.59 L722.43,780.62 L724.52,784.52 L726.62,788.25 L728.72,791.76 L730.81,794.99 L732.91,797.89 L735.01,800.42 L737.1,802.56 L739.2,804.36 L741.3,805.86 L743.39,807.12 L745.49,808.17 L747.59,809.06 L749.68,809.84 L751.78,810.51 L753.88,811.09 L755.97,811.58 L758.07,811.99 L760.17,812.32 L762.26,812.58 L764.36,812.79 L766.45,812.94 L768.55,813.04 L770.65,813.1 L772.74,813.13 L774.84,813.11 L776.94,813.06 L779.03,812.98 L781.13,812.86 L783.23,812.72 L785.32,812.55 L787.42,812.37 L789.52,812.16 L791.61,811.93 L793.71,811.69 L795.81,811.44 L797.9,811.17 L800,810.9 L802.1,810.63 L804.19,810.35 L806.29,810.07 L808.38,809.8 L810.48,809.53 L812.58,809.27 L814.67,809.02 L816.77,808.78 L818.87,808.55 L820.96,808.35 L823.06,808.16 L825.16,808 L827.25,807.86 L829.35,807.75"/>
</g>
<rect x="1067.6" y="518.0" width="607.9" height="393.2" fill="none" stroke="#111" stroke-width="1.6"/>
<g stroke="#111" stroke-width="1.5" fill="none">
<path d="M1067.6,872.38 L1081.1,872.38"/>
<path d="M1067.6,833 L1091.1,833"/>
<path d="M1067.6,793.62 L1081.1,793.62"/>
<path d="M1067.6,754.25 L1091.1,754.25"/>
<path d="M1067.6,714.88 L1081.1,714.88"/>
<path d="M1067.6,675.5 L1091.1,675.5"/>
<path d="M1067.6,636.12 L1081.1,636.12"/>
<path d="M1067.6,596.75 L1091.1,596.75"/>
<path d="M1067.6,557.38 L1081.1,557.38"/>
<path d="M1169.2,911.2 L1169.2,897.8"/>
<path d="M1270.4,911.2 L1270.4,888.2"/>
<path d="M1371.6,911.2 L1371.6,897.8"/>
<path d="M1472.8,911.2 L1472.8,888.2"/>
<path d="M1574,911.2 L1574,897.8"/>
</g>
<path d="M1091.1,833 L1675.5,833" stroke="#111" stroke-width="1.3" stroke-dasharray="4.4 4.3" fill="none"/>
<g font-family="'Liberation Sans', Arial, sans-serif" font-size="38.5" fill="#111" text-anchor="end">
<text transform="translate(1057.3,534.3) scale(0.935,1)">400</text>
<text transform="translate(1057.3,613.05) scale(0.935,1)">300</text>
<text transform="translate(1057.3,691.8) scale(0.935,1)">200</text>
<text transform="translate(1057.3,770.55) scale(0.935,1)">100</text>
<text transform="translate(1057.3,849.3) scale(0.935,1)">0</text>
<text transform="translate(1057.3,928.05) scale(0.935,1)">-100</text>
</g>
<g font-family="'Liberation Sans', Arial, sans-serif" font-size="38.5" fill="#111" text-anchor="middle">
<text transform="translate(1067.5,966.2) scale(0.935,1)">250</text>
<text transform="translate(1269.9,966.2) scale(0.935,1)">300</text>
<text transform="translate(1472.3,966.2) scale(0.935,1)">350</text>
<text transform="translate(1674.7,966.2) scale(0.935,1)">400</text>
</g>
<text font-family="'Liberation Sans', Arial, sans-serif" font-weight="bold" font-size="38" fill="#000" x="1213.2" y="1014.2" textLength="316.5" lengthAdjust="spacing">Wavelength [nm]</text>
<text font-family="'Liberation Sans', Arial, sans-serif" font-weight="bold" font-size="39" fill="#000" x="922" y="750.8" textLength="58.5" lengthAdjust="spacingAndGlyphs">Int.</text>
<text font-family="'Liberation Serif', 'Times New Roman', serif" font-size="29" fill="#111" x="1148.8" y="602.7"><tspan font-family="'Noto Sans CJK SC', sans-serif" font-size="26">△</tspan><tspan dx="1.4 0 1.0 -0.1 0.1 0 0">λ=60 nm</tspan></text>
<text font-family="'Liberation Serif', 'Times New Roman', serif" font-size="31" fill="#111" x="1516.6" y="573.4" text-anchor="middle">a</text>
<text font-family="'Liberation Serif', 'Times New Roman', serif" font-size="31" fill="#111" x="1516" y="647.5" text-anchor="middle">g</text>
<text transform="translate(1516.2,614.4) scale(1.16,1)" font-size="31.6" font-family="'WenQuanYi Zen Hei', 'Noto Sans CJK SC', sans-serif" text-anchor="middle" fill="#111">↓</text>
<g stroke="#111" stroke-width="1.2" fill="none" stroke-linejoin="round">
<path d="M1209.68,835.36 L1211.7,835.36 L1213.73,835.36 L1215.75,835.36 L1217.78,835.36 L1219.8,835.36 L1221.82,835.36 L1223.85,835.36 L1225.87,835.36 L1227.9,835.36 L1229.92,835.36 L1231.94,835.36 L1233.97,835.36 L1235.99,835.36 L1238.02,835.36 L1240.04,835.36 L1242.06,835.36 L1244.09,835.36 L1246.11,835.35 L1248.14,835.35 L1250.16,835.35 L1252.18,835.35 L1254.21,835.34 L1256.23,835.34 L1258.26,835.34 L1260.28,835.33 L1262.3,835.32 L1264.33,835.32 L1266.35,835.31 L1268.38,835.3 L1270.4,835.28 L1272.42,835.27 L1274.45,835.25 L1276.47,835.23 L1278.5,835.2 L1280.52,835.17 L1282.54,835.14 L1284.57,835.09 L1286.59,835.05 L1288.62,834.99 L1290.64,834.92 L1292.66,834.85 L1294.69,834.76 L1296.71,834.66 L1298.74,834.54 L1300.76,834.41 L1302.78,834.25 L1304.81,834.08 L1306.83,833.87 L1308.86,833.64 L1310.88,833.38 L1312.9,833.09 L1314.93,832.75 L1316.95,832.37 L1318.98,831.94 L1321,831.46 L1323.02,830.92 L1325.05,830.31 L1327.07,829.64 L1329.1,828.88 L1331.12,828.04 L1333.14,827.11 L1335.17,826.08 L1337.19,824.94 L1339.22,823.69 L1341.24,822.31 L1343.26,820.79 L1345.29,819.13 L1347.31,817.32 L1349.34,815.35 L1351.36,813.2 L1353.38,810.87 L1355.41,808.36 L1357.43,805.64 L1359.46,802.71 L1361.48,799.57 L1363.5,796.2 L1365.53,792.61 L1367.55,788.77 L1369.58,784.69 L1371.6,780.37 L1373.62,775.79 L1375.65,770.96 L1377.67,765.88 L1379.7,760.55 L1381.72,754.97 L1383.74,749.14 L1385.77,743.08 L1387.79,736.79 L1389.82,730.27 L1391.84,723.55 L1393.86,716.64 L1395.89,709.54 L1397.91,702.3 L1399.94,694.91 L1401.96,687.41 L1403.98,679.81 L1406.01,672.16 L1408.03,664.46 L1410.06,656.76 L1412.08,649.08 L1414.1,641.46 L1416.13,633.93 L1418.15,626.52 L1420.18,619.27 L1422.2,612.22 L1424.22,605.38 L1426.25,598.81 L1428.27,592.54 L1430.3,586.59 L1432.32,581 L1434.34,575.8 L1436.37,571.02 L1438.39,566.68 L1440.42,562.81 L1442.44,559.43 L1444.46,556.56 L1446.49,554.22 L1448.51,552.41 L1450.54,551.15 L1452.56,550.44 L1454.58,550.32 L1456.61,550.96 L1458.63,552.4 L1460.66,554.64 L1462.68,557.65 L1464.7,561.4 L1466.73,565.87 L1468.75,571.01 L1470.78,576.79 L1472.8,583.15 L1474.82,590.04 L1476.85,597.41 L1478.87,605.2 L1480.9,613.36 L1482.92,621.82 L1484.94,630.53 L1486.97,639.42 L1488.99,648.45 L1491.02,657.54 L1493.04,666.65 L1495.06,675.72 L1497.09,684.71 L1499.11,693.58 L1501.14,702.27 L1503.16,710.75 L1505.18,718.99 L1507.21,726.96 L1509.23,734.64 L1511.26,741.99 L1513.28,749.02 L1515.3,755.69 L1517.33,762.02 L1519.35,767.98 L1521.38,773.59 L1523.4,778.83 L1525.42,783.72 L1527.45,788.26 L1529.47,792.47 L1531.5,796.34 L1533.52,799.9 L1535.54,803.16 L1537.57,806.14 L1539.59,808.84 L1541.62,811.29 L1543.64,813.5 L1545.66,815.49 L1547.69,817.28 L1549.71,818.87 L1551.74,820.29 L1553.76,821.55 L1555.78,822.66 L1557.81,823.64 L1559.83,824.5 L1561.86,825.26 L1563.88,825.92 L1565.9,826.49 L1567.93,826.99 L1569.95,827.42 L1571.98,827.78 L1574,828.1 L1576.02,828.37 L1578.05,828.6 L1580.07,828.79 L1582.1,828.95 L1584.12,829.09 L1586.14,829.2 L1588.17,829.29 L1590.19,829.37 L1592.22,829.42 L1594.24,829.47 L1596.26,829.5 L1598.29,829.52 L1600.31,829.54 L1602.34,829.54 L1604.36,829.54 L1606.38,829.53 L1608.41,829.51 L1610.43,829.49 L1612.46,829.45 L1614.48,829.41 L1616.5,829.36 L1618.53,829.31 L1620.55,829.24 L1622.58,829.17 L1624.6,829.08 L1626.62,828.98 L1628.65,828.87 L1630.67,828.74 L1632.7,828.59 L1634.72,828.43 L1636.74,828.24 L1638.77,828.02 L1640.79,827.78 L1642.82,827.5 L1644.84,827.19 L1646.86,826.84 L1648.89,826.44 L1650.91,825.98 L1652.94,825.47 L1654.96,824.89 L1656.98,824.23 L1659.01,823.48 L1661.03,822.63 L1663.06,821.67 L1665.08,820.58 L1667.1,819.34 L1669.13,817.94 L1671.15,816.36 L1673.18,814.56 L1675.2,812.53"/>
<path d="M1209.68,835.36 L1211.7,835.36 L1213.73,835.36 L1215.75,835.36 L1217.78,835.36 L1219.8,835.36 L1221.82,835.36 L1223.85,835.36 L1225.87,835.36 L1227.9,835.36 L1229.92,835.36 L1231.94,835.36 L1233.97,835.36 L1235.99,835.36 L1238.02,835.36 L1240.04,835.36 L1242.06,835.36 L1244.09,835.36 L1246.11,835.35 L1248.14,835.35 L1250.16,835.35 L1252.18,835.35 L1254.21,835.35 L1256.23,835.34 L1258.26,835.34 L1260.28,835.33 L1262.3,835.33 L1264.33,835.32 L1266.35,835.31 L1268.38,835.3 L1270.4,835.28 L1272.42,835.27 L1274.45,835.25 L1276.47,835.23 L1278.5,835.21 L1280.52,835.18 L1282.54,835.14 L1284.57,835.1 L1286.59,835.05 L1288.62,835 L1290.64,834.94 L1292.66,834.86 L1294.69,834.78 L1296.71,834.68 L1298.74,834.57 L1300.76,834.44 L1302.78,834.29 L1304.81,834.12 L1306.83,833.92 L1308.86,833.7 L1310.88,833.45 L1312.9,833.16 L1314.93,832.84 L1316.95,832.47 L1318.98,832.06 L1321,831.6 L1323.02,831.08 L1325.05,830.49 L1327.07,829.84 L1329.1,829.12 L1331.12,828.31 L1333.14,827.42 L1335.17,826.43 L1337.19,825.33 L1339.22,824.13 L1341.24,822.8 L1343.26,821.35 L1345.29,819.76 L1347.31,818.03 L1349.34,816.14 L1351.36,814.08 L1353.38,811.85 L1355.41,809.45 L1357.43,806.85 L1359.46,804.05 L1361.48,801.05 L1363.5,797.84 L1365.53,794.4 L1367.55,790.75 L1369.58,786.86 L1371.6,782.73 L1373.62,778.38 L1375.65,773.78 L1377.67,768.94 L1379.7,763.87 L1381.72,758.56 L1383.74,753.02 L1385.77,747.26 L1387.79,741.28 L1389.82,735.1 L1391.84,728.73 L1393.86,722.17 L1395.89,715.45 L1397.91,708.59 L1399.94,701.59 L1401.96,694.5 L1403.98,687.32 L1406.01,680.08 L1408.03,672.82 L1410.06,665.55 L1412.08,658.31 L1414.1,651.13 L1416.13,644.04 L1418.15,637.07 L1420.18,630.26 L1422.2,623.63 L1424.22,617.22 L1426.25,611.06 L1428.27,605.19 L1430.3,599.63 L1432.32,594.42 L1434.34,589.57 L1436.37,585.13 L1438.39,581.11 L1440.42,577.53 L1442.44,574.42 L1444.46,571.79 L1446.49,569.66 L1448.51,568.04 L1450.54,566.94 L1452.56,566.36 L1454.58,566.35 L1456.61,567.07 L1458.63,568.54 L1460.66,570.76 L1462.68,573.69 L1464.7,577.31 L1466.73,581.59 L1468.75,586.5 L1470.78,591.99 L1472.8,598.03 L1474.82,604.55 L1476.85,611.52 L1478.87,618.87 L1480.9,626.56 L1482.92,634.53 L1484.94,642.72 L1486.97,651.07 L1488.99,659.55 L1491.02,668.08 L1493.04,676.63 L1495.06,685.14 L1497.09,693.57 L1499.11,701.88 L1501.14,710.03 L1503.16,717.98 L1505.18,725.7 L1507.21,733.17 L1509.23,740.36 L1511.26,747.25 L1513.28,753.83 L1515.3,760.09 L1517.33,766.02 L1519.35,771.61 L1521.38,776.86 L1523.4,781.78 L1525.42,786.37 L1527.45,790.63 L1529.47,794.58 L1531.5,798.22 L1533.52,801.57 L1535.54,804.63 L1537.57,807.43 L1539.59,809.98 L1541.62,812.28 L1543.64,814.37 L1545.66,816.24 L1547.69,817.93 L1549.71,819.43 L1551.74,820.77 L1553.76,821.96 L1555.78,823.02 L1557.81,823.95 L1559.83,824.77 L1561.86,825.48 L1563.88,826.11 L1565.9,826.66 L1567.93,827.13 L1569.95,827.54 L1571.98,827.9 L1574,828.2 L1576.02,828.46 L1578.05,828.69 L1580.07,828.88 L1582.1,829.04 L1584.12,829.17 L1586.14,829.29 L1588.17,829.39 L1590.19,829.47 L1592.22,829.54 L1594.24,829.59 L1596.26,829.64 L1598.29,829.68 L1600.31,829.71 L1602.34,829.74 L1604.36,829.76 L1606.38,829.78 L1608.41,829.79 L1610.43,829.8 L1612.46,829.81 L1614.48,829.82 L1616.5,829.83 L1618.53,829.83 L1620.55,829.84 L1622.58,829.84 L1624.6,829.84 L1626.62,829.84 L1628.65,829.84 L1630.67,829.85 L1632.7,829.85 L1634.72,829.85 L1636.74,829.85 L1638.77,829.85 L1640.79,829.85 L1642.82,829.85 L1644.84,829.85 L1646.86,829.85 L1648.89,829.85 L1650.91,829.85 L1652.94,829.85 L1654.96,829.85 L1656.98,829.85 L1659.01,829.85 L1661.03,829.85 L1663.06,829.85 L1665.08,829.85 L1667.1,829.85 L1669.13,829.85 L1671.15,829.85 L1673.18,829.85 L1675.2,829.85"/>
<path d="M1209.68,835.36 L1211.7,835.36 L1213.73,835.36 L1215.75,835.36 L1217.78,835.36 L1219.8,835.36 L1221.82,835.36 L1223.85,835.36 L1225.87,835.36 L1227.9,835.36 L1229.92,835.36 L1231.94,835.36 L1233.97,835.36 L1235.99,835.36 L1238.02,835.36 L1240.04,835.36 L1242.06,835.36 L1244.09,835.36 L1246.11,835.35 L1248.14,835.35 L1250.16,835.35 L1252.18,835.35 L1254.21,835.35 L1256.23,835.34 L1258.26,835.34 L1260.28,835.33 L1262.3,835.33 L1264.33,835.32 L1266.35,835.31 L1268.38,835.3 L1270.4,835.29 L1272.42,835.27 L1274.45,835.25 L1276.47,835.23 L1278.5,835.21 L1280.52,835.18 L1282.54,835.14 L1284.57,835.1 L1286.59,835.06 L1288.62,835 L1290.64,834.94 L1292.66,834.87 L1294.69,834.79 L1296.71,834.69 L1298.74,834.58 L1300.76,834.45 L1302.78,834.3 L1304.81,834.14 L1306.83,833.95 L1308.86,833.73 L1310.88,833.48 L1312.9,833.2 L1314.93,832.88 L1316.95,832.52 L1318.98,832.12 L1321,831.66 L1323.02,831.15 L1325.05,830.58 L1327.07,829.95 L1329.1,829.24 L1331.12,828.45 L1333.14,827.58 L1335.17,826.61 L1337.19,825.54 L1339.22,824.36 L1341.24,823.07 L1343.26,821.65 L1345.29,820.1 L1347.31,818.41 L1349.34,816.57 L1351.36,814.57 L1353.38,812.4 L1355.41,810.06 L1357.43,807.53 L1359.46,804.81 L1361.48,801.9 L1363.5,798.77 L1365.53,795.44 L1367.55,791.89 L1369.58,788.11 L1371.6,784.12 L1373.62,779.89 L1375.65,775.43 L1377.67,770.75 L1379.7,765.84 L1381.72,760.7 L1383.74,755.35 L1385.77,749.78 L1387.79,744 L1389.82,738.03 L1391.84,731.88 L1393.86,725.55 L1395.89,719.08 L1397.91,712.46 L1399.94,705.72 L1401.96,698.89 L1403.98,691.99 L1406.01,685.03 L1408.03,678.05 L1410.06,671.08 L1412.08,664.13 L1414.1,657.25 L1416.13,650.45 L1418.15,643.78 L1420.18,637.27 L1422.2,630.93 L1424.22,624.82 L1426.25,618.95 L1428.27,613.36 L1430.3,608.07 L1432.32,603.12 L1434.34,598.54 L1436.37,594.33 L1438.39,590.54 L1440.42,587.18 L1442.44,584.27 L1444.46,581.83 L1446.49,579.86 L1448.51,578.39 L1450.54,577.42 L1452.56,576.94 L1454.58,577.04 L1456.61,577.85 L1458.63,579.37 L1460.66,581.59 L1462.68,584.49 L1464.7,588.04 L1466.73,592.22 L1468.75,596.98 L1470.78,602.3 L1472.8,608.13 L1474.82,614.41 L1476.85,621.11 L1478.87,628.18 L1480.9,635.55 L1482.92,643.19 L1484.94,651.03 L1486.97,659.02 L1488.99,667.12 L1491.02,675.28 L1493.04,683.44 L1495.06,691.57 L1497.09,699.62 L1499.11,707.54 L1501.14,715.31 L1503.16,722.89 L1505.18,730.26 L1507.21,737.38 L1509.23,744.24 L1511.26,750.81 L1513.28,757.09 L1515.3,763.06 L1517.33,768.71 L1519.35,774.05 L1521.38,779.06 L1523.4,783.76 L1525.42,788.14 L1527.45,792.21 L1529.47,795.98 L1531.5,799.46 L1533.52,802.66 L1535.54,805.6 L1537.57,808.28 L1539.59,810.71 L1541.62,812.92 L1543.64,814.92 L1545.66,816.72 L1547.69,818.34 L1549.71,819.78 L1551.74,821.07 L1553.76,822.22 L1555.78,823.23 L1557.81,824.13 L1559.83,824.92 L1561.86,825.61 L1563.88,826.22 L1565.9,826.74 L1567.93,827.2 L1569.95,827.6 L1571.98,827.94 L1574,828.24 L1576.02,828.49 L1578.05,828.71 L1580.07,828.9 L1582.1,829.05 L1584.12,829.19 L1586.14,829.3 L1588.17,829.39 L1590.19,829.47 L1592.22,829.54 L1594.24,829.6 L1596.26,829.64 L1598.29,829.68 L1600.31,829.71 L1602.34,829.74 L1604.36,829.76 L1606.38,829.78 L1608.41,829.79 L1610.43,829.8 L1612.46,829.81 L1614.48,829.82 L1616.5,829.83 L1618.53,829.83 L1620.55,829.84 L1622.58,829.84 L1624.6,829.84 L1626.62,829.84 L1628.65,829.84 L1630.67,829.85 L1632.7,829.85 L1634.72,829.85 L1636.74,829.85 L1638.77,829.85 L1640.79,829.85 L1642.82,829.85 L1644.84,829.85 L1646.86,829.85 L1648.89,829.85 L1650.91,829.85 L1652.94,829.85 L1654.96,829.85 L1656.98,829.85 L1659.01,829.85 L1661.03,829.85 L1663.06,829.85 L1665.08,829.85 L1667.1,829.85 L1669.13,829.85 L1671.15,829.85 L1673.18,829.85 L1675.2,829.85"/>
<path d="M1209.68,835.36 L1211.7,835.36 L1213.73,835.36 L1215.75,835.36 L1217.78,835.36 L1219.8,835.36 L1221.82,835.36 L1223.85,835.36 L1225.87,835.36 L1227.9,835.36 L1229.92,835.36 L1231.94,835.36 L1233.97,835.36 L1235.99,835.36 L1238.02,835.36 L1240.04,835.36 L1242.06,835.36 L1244.09,835.36 L1246.11,835.35 L1248.14,835.35 L1250.16,835.35 L1252.18,835.35 L1254.21,835.35 L1256.23,835.34 L1258.26,835.34 L1260.28,835.33 L1262.3,835.33 L1264.33,835.32 L1266.35,835.31 L1268.38,835.3 L1270.4,835.28 L1272.42,835.27 L1274.45,835.25 L1276.47,835.23 L1278.5,835.21 L1280.52,835.18 L1282.54,835.14 L1284.57,835.1 L1286.59,835.05 L1288.62,835 L1290.64,834.94 L1292.66,834.86 L1294.69,834.78 L1296.71,834.68 L1298.74,834.57 L1300.76,834.44 L1302.78,834.29 L1304.81,834.12 L1306.83,833.93 L1308.86,833.71 L1310.88,833.46 L1312.9,833.18 L1314.93,832.86 L1316.95,832.5 L1318.98,832.09 L1321,831.64 L1323.02,831.13 L1325.05,830.55 L1327.07,829.92 L1329.1,829.2 L1331.12,828.41 L1333.14,827.54 L1335.17,826.57 L1337.19,825.5 L1339.22,824.32 L1341.24,823.03 L1343.26,821.61 L1345.29,820.06 L1347.31,818.37 L1349.34,816.53 L1351.36,814.53 L1353.38,812.37 L1355.41,810.03 L1357.43,807.51 L1359.46,804.8 L1361.48,801.89 L1363.5,798.78 L1365.53,795.46 L1367.55,791.93 L1369.58,788.17 L1371.6,784.2 L1373.62,780 L1375.65,775.57 L1377.67,770.92 L1379.7,766.05 L1381.72,760.95 L1383.74,755.64 L1385.77,750.12 L1387.79,744.4 L1389.82,738.49 L1391.84,732.4 L1393.86,726.14 L1395.89,719.74 L1397.91,713.2 L1399.94,706.55 L1401.96,699.81 L1403.98,693 L1406.01,686.14 L1408.03,679.27 L1410.06,672.4 L1412.08,665.57 L1414.1,658.8 L1416.13,652.13 L1418.15,645.59 L1420.18,639.2 L1422.2,633 L1424.22,627.02 L1426.25,621.28 L1428.27,615.82 L1430.3,610.68 L1432.32,605.86 L1434.34,601.41 L1436.37,597.34 L1438.39,593.67 L1440.42,590.44 L1442.44,587.65 L1444.46,585.33 L1446.49,583.47 L1448.51,582.11 L1450.54,581.23 L1452.56,580.85 L1454.58,581.06 L1456.61,581.96 L1458.63,583.57 L1460.66,585.85 L1462.68,588.79 L1464.7,592.36 L1466.73,596.54 L1468.75,601.29 L1470.78,606.56 L1472.8,612.33 L1474.82,618.55 L1476.85,625.16 L1478.87,632.11 L1480.9,639.37 L1482.92,646.88 L1484.94,654.58 L1486.97,662.42 L1488.99,670.37 L1491.02,678.36 L1493.04,686.36 L1495.06,694.32 L1497.09,702.2 L1499.11,709.95 L1501.14,717.56 L1503.16,724.97 L1505.18,732.18 L1507.21,739.14 L1509.23,745.85 L1511.26,752.28 L1513.28,758.42 L1515.3,764.26 L1517.33,769.79 L1519.35,775.02 L1521.38,779.92 L1523.4,784.52 L1525.42,788.81 L1527.45,792.8 L1529.47,796.5 L1531.5,799.91 L1533.52,803.05 L1535.54,805.93 L1537.57,808.56 L1539.59,810.95 L1541.62,813.12 L1543.64,815.09 L1545.66,816.86 L1547.69,818.45 L1549.71,819.87 L1551.74,821.14 L1553.76,822.27 L1555.78,823.28 L1557.81,824.16 L1559.83,824.94 L1561.86,825.63 L1563.88,826.23 L1565.9,826.75 L1567.93,827.21 L1569.95,827.6 L1571.98,827.94 L1574,828.24 L1576.02,828.49 L1578.05,828.71 L1580.07,828.89 L1582.1,829.05 L1584.12,829.18 L1586.14,829.29 L1588.17,829.39 L1590.19,829.47 L1592.22,829.54 L1594.24,829.59 L1596.26,829.64 L1598.29,829.68 L1600.31,829.71 L1602.34,829.74 L1604.36,829.76 L1606.38,829.78 L1608.41,829.79 L1610.43,829.8 L1612.46,829.81 L1614.48,829.82 L1616.5,829.83 L1618.53,829.83 L1620.55,829.83 L1622.58,829.84 L1624.6,829.84 L1626.62,829.84 L1628.65,829.84 L1630.67,829.85 L1632.7,829.85 L1634.72,829.85 L1636.74,829.85 L1638.77,829.85 L1640.79,829.85 L1642.82,829.85 L1644.84,829.85 L1646.86,829.85 L1648.89,829.85 L1650.91,829.85 L1652.94,829.85 L1654.96,829.85 L1656.98,829.85 L1659.01,829.85 L1661.03,829.85 L1663.06,829.85 L1665.08,829.85 L1667.1,829.85 L1669.13,829.85 L1671.15,829.85 L1673.18,829.85 L1675.2,829.85"/>
<path d="M1209.68,835.36 L1211.7,835.36 L1213.73,835.36 L1215.75,835.36 L1217.78,835.36 L1219.8,835.36 L1221.82,835.36 L1223.85,835.36 L1225.87,835.36 L1227.9,835.36 L1229.92,835.36 L1231.94,835.36 L1233.97,835.36 L1235.99,835.36 L1238.02,835.36 L1240.04,835.36 L1242.06,835.36 L1244.09,835.36 L1246.11,835.35 L1248.14,835.35 L1250.16,835.35 L1252.18,835.35 L1254.21,835.35 L1256.23,835.34 L1258.26,835.34 L1260.28,835.33 L1262.3,835.33 L1264.33,835.32 L1266.35,835.31 L1268.38,835.3 L1270.4,835.29 L1272.42,835.27 L1274.45,835.25 L1276.47,835.23 L1278.5,835.21 L1280.52,835.18 L1282.54,835.14 L1284.57,835.1 L1286.59,835.06 L1288.62,835.01 L1290.64,834.94 L1292.66,834.87 L1294.69,834.79 L1296.71,834.69 L1298.74,834.58 L1300.76,834.46 L1302.78,834.31 L1304.81,834.14 L1306.83,833.96 L1308.86,833.74 L1310.88,833.5 L1312.9,833.22 L1314.93,832.91 L1316.95,832.55 L1318.98,832.15 L1321,831.71 L1323.02,831.21 L1325.05,830.65 L1327.07,830.02 L1329.1,829.33 L1331.12,828.56 L1333.14,827.7 L1335.17,826.75 L1337.19,825.71 L1339.22,824.56 L1341.24,823.3 L1343.26,821.92 L1345.29,820.41 L1347.31,818.76 L1349.34,816.97 L1351.36,815.03 L1353.38,812.92 L1355.41,810.65 L1357.43,808.2 L1359.46,805.57 L1361.48,802.74 L1363.5,799.72 L1365.53,796.5 L1367.55,793.08 L1369.58,789.44 L1371.6,785.58 L1373.62,781.52 L1375.65,777.23 L1377.67,772.73 L1379.7,768.02 L1381.72,763.09 L1383.74,757.96 L1385.77,752.63 L1387.79,747.11 L1389.82,741.4 L1391.84,735.53 L1393.86,729.5 L1395.89,723.33 L1397.91,717.04 L1399.94,710.64 L1401.96,704.15 L1403.98,697.61 L1406.01,691.02 L1408.03,684.43 L1410.06,677.84 L1412.08,671.29 L1414.1,664.81 L1416.13,658.43 L1418.15,652.17 L1420.18,646.07 L1422.2,640.15 L1424.22,634.45 L1426.25,628.99 L1428.27,623.8 L1430.3,618.91 L1432.32,614.34 L1434.34,610.13 L1436.37,606.29 L1438.39,602.84 L1440.42,599.81 L1442.44,597.21 L1444.46,595.05 L1446.49,593.35 L1448.51,592.12 L1450.54,591.36 L1452.56,591.08 L1454.58,591.38 L1456.61,592.35 L1458.63,593.99 L1460.66,596.26 L1462.68,599.16 L1464.7,602.65 L1466.73,606.72 L1468.75,611.32 L1470.78,616.42 L1472.8,621.98 L1474.82,627.96 L1476.85,634.31 L1478.87,640.99 L1480.9,647.94 L1482.92,655.12 L1484.94,662.49 L1486.97,669.99 L1488.99,677.58 L1491.02,685.21 L1493.04,692.84 L1495.06,700.43 L1497.09,707.94 L1499.11,715.34 L1501.14,722.59 L1503.16,729.66 L1505.18,736.52 L1507.21,743.16 L1509.23,749.55 L1511.26,755.68 L1513.28,761.53 L1515.3,767.1 L1517.33,772.37 L1519.35,777.35 L1521.38,782.03 L1523.4,786.42 L1525.42,790.51 L1527.45,794.32 L1529.47,797.85 L1531.5,801.11 L1533.52,804.11 L1535.54,806.86 L1537.57,809.38 L1539.59,811.67 L1541.62,813.75 L1543.64,815.63 L1545.66,817.33 L1547.69,818.85 L1549.71,820.22 L1551.74,821.44 L1553.76,822.52 L1555.78,823.49 L1557.81,824.34 L1559.83,825.09 L1561.86,825.75 L1563.88,826.33 L1565.9,826.84 L1567.93,827.28 L1569.95,827.66 L1571.98,827.99 L1574,828.28 L1576.02,828.52 L1578.05,828.73 L1580.07,828.91 L1582.1,829.06 L1584.12,829.19 L1586.14,829.3 L1588.17,829.4 L1590.19,829.48 L1592.22,829.54 L1594.24,829.6 L1596.26,829.64 L1598.29,829.68 L1600.31,829.71 L1602.34,829.74 L1604.36,829.76 L1606.38,829.78 L1608.41,829.79 L1610.43,829.8 L1612.46,829.81 L1614.48,829.82 L1616.5,829.83 L1618.53,829.83 L1620.55,829.83 L1622.58,829.84 L1624.6,829.84 L1626.62,829.84 L1628.65,829.84 L1630.67,829.85 L1632.7,829.85 L1634.72,829.85 L1636.74,829.85 L1638.77,829.85 L1640.79,829.85 L1642.82,829.85 L1644.84,829.85 L1646.86,829.85 L1648.89,829.85 L1650.91,829.85 L1652.94,829.85 L1654.96,829.85 L1656.98,829.85 L1659.01,829.85 L1661.03,829.85 L1663.06,829.85 L1665.08,829.85 L1667.1,829.85 L1669.13,829.85 L1671.15,829.85 L1673.18,829.85 L1675.2,829.85"/>
<path d="M1209.68,835.36 L1211.7,835.36 L1213.73,835.36 L1215.75,835.36 L1217.78,835.36 L1219.8,835.36 L1221.82,835.36 L1223.85,835.36 L1225.87,835.36 L1227.9,835.36 L1229.92,835.36 L1231.94,835.36 L1233.97,835.36 L1235.99,835.36 L1238.02,835.36 L1240.04,835.36 L1242.06,835.36 L1244.09,835.36 L1246.11,835.35 L1248.14,835.35 L1250.16,835.35 L1252.18,835.35 L1254.21,835.35 L1256.23,835.34 L1258.26,835.34 L1260.28,835.33 L1262.3,835.33 L1264.33,835.32 L1266.35,835.31 L1268.38,835.3 L1270.4,835.29 L1272.42,835.27 L1274.45,835.25 L1276.47,835.23 L1278.5,835.21 L1280.52,835.18 L1282.54,835.15 L1284.57,835.11 L1286.59,835.06 L1288.62,835.01 L1290.64,834.95 L1292.66,834.87 L1294.69,834.79 L1296.71,834.7 L1298.74,834.59 L1300.76,834.46 L1302.78,834.32 L1304.81,834.15 L1306.83,833.97 L1308.86,833.75 L1310.88,833.51 L1312.9,833.24 L1314.93,832.93 L1316.95,832.58 L1318.98,832.19 L1321,831.75 L1323.02,831.25 L1325.05,830.7 L1327.07,830.08 L1329.1,829.4 L1331.12,828.64 L1333.14,827.79 L1335.17,826.86 L1337.19,825.84 L1339.22,824.71 L1341.24,823.46 L1343.26,822.11 L1345.29,820.62 L1347.31,819.01 L1349.34,817.25 L1351.36,815.34 L1353.38,813.27 L1355.41,811.04 L1357.43,808.64 L1359.46,806.06 L1361.48,803.3 L1363.5,800.34 L1365.53,797.19 L1367.55,793.84 L1369.58,790.28 L1371.6,786.51 L1373.62,782.54 L1375.65,778.36 L1377.67,773.96 L1379.7,769.36 L1381.72,764.56 L1383.74,759.56 L1385.77,754.37 L1387.79,748.99 L1389.82,743.44 L1391.84,737.73 L1393.86,731.87 L1395.89,725.87 L1397.91,719.76 L1399.94,713.55 L1401.96,707.27 L1403.98,700.92 L1406.01,694.54 L1408.03,688.15 L1410.06,681.78 L1412.08,675.45 L1414.1,669.2 L1416.13,663.03 L1418.15,657 L1420.18,651.12 L1422.2,645.43 L1424.22,639.94 L1426.25,634.7 L1428.27,629.72 L1430.3,625.04 L1432.32,620.68 L1434.34,616.66 L1436.37,613.01 L1438.39,609.74 L1440.42,606.87 L1442.44,604.43 L1444.46,602.41 L1446.49,600.84 L1448.51,599.73 L1450.54,599.07 L1452.56,598.88 L1454.58,599.28 L1456.61,600.32 L1458.63,601.99 L1460.66,604.27 L1462.68,607.14 L1464.7,610.59 L1466.73,614.58 L1468.75,619.08 L1470.78,624.05 L1472.8,629.46 L1474.82,635.26 L1476.85,641.41 L1478.87,647.87 L1480.9,654.6 L1482.92,661.53 L1484.94,668.64 L1486.97,675.87 L1488.99,683.18 L1491.02,690.53 L1493.04,697.88 L1495.06,705.19 L1497.09,712.41 L1499.11,719.52 L1501.14,726.49 L1503.16,733.29 L1505.18,739.89 L1507.21,746.27 L1509.23,752.41 L1511.26,758.31 L1513.28,763.93 L1515.3,769.28 L1517.33,774.36 L1519.35,779.15 L1521.38,783.65 L1523.4,787.87 L1525.42,791.81 L1527.45,795.48 L1529.47,798.88 L1531.5,802.02 L1533.52,804.91 L1535.54,807.57 L1537.57,809.99 L1539.59,812.2 L1541.62,814.21 L1543.64,816.03 L1545.66,817.67 L1547.69,819.15 L1549.71,820.47 L1551.74,821.65 L1553.76,822.71 L1555.78,823.64 L1557.81,824.47 L1559.83,825.2 L1561.86,825.84 L1563.88,826.41 L1565.9,826.9 L1567.93,827.33 L1569.95,827.7 L1571.98,828.02 L1574,828.3 L1576.02,828.54 L1578.05,828.75 L1580.07,828.92 L1582.1,829.07 L1584.12,829.2 L1586.14,829.31 L1588.17,829.4 L1590.19,829.48 L1592.22,829.54 L1594.24,829.6 L1596.26,829.64 L1598.29,829.68 L1600.31,829.71 L1602.34,829.74 L1604.36,829.76 L1606.38,829.78 L1608.41,829.79 L1610.43,829.8 L1612.46,829.81 L1614.48,829.82 L1616.5,829.83 L1618.53,829.83 L1620.55,829.83 L1622.58,829.84 L1624.6,829.84 L1626.62,829.84 L1628.65,829.84 L1630.67,829.85 L1632.7,829.85 L1634.72,829.85 L1636.74,829.85 L1638.77,829.85 L1640.79,829.85 L1642.82,829.85 L1644.84,829.85 L1646.86,829.85 L1648.89,829.85 L1650.91,829.85 L1652.94,829.85 L1654.96,829.85 L1656.98,829.85 L1659.01,829.85 L1661.03,829.85 L1663.06,829.85 L1665.08,829.85 L1667.1,829.85 L1669.13,829.85 L1671.15,829.85 L1673.18,829.85 L1675.2,829.85"/>
<path d="M1209.68,835.36 L1211.7,835.36 L1213.73,835.36 L1215.75,835.36 L1217.78,835.36 L1219.8,835.36 L1221.82,835.36 L1223.85,835.36 L1225.87,835.36 L1227.9,835.36 L1229.92,835.36 L1231.94,835.36 L1233.97,835.36 L1235.99,835.36 L1238.02,835.36 L1240.04,835.36 L1242.06,835.36 L1244.09,835.36 L1246.11,835.35 L1248.14,835.35 L1250.16,835.35 L1252.18,835.35 L1254.21,835.35 L1256.23,835.34 L1258.26,835.34 L1260.28,835.33 L1262.3,835.33 L1264.33,835.32 L1266.35,835.31 L1268.38,835.3 L1270.4,835.29 L1272.42,835.27 L1274.45,835.25 L1276.47,835.23 L1278.5,835.21 L1280.52,835.18 L1282.54,835.15 L1284.57,835.11 L1286.59,835.06 L1288.62,835.01 L1290.64,834.95 L1292.66,834.88 L1294.69,834.8 L1296.71,834.7 L1298.74,834.59 L1300.76,834.47 L1302.78,834.33 L1304.81,834.17 L1306.83,833.98 L1308.86,833.77 L1310.88,833.53 L1312.9,833.26 L1314.93,832.96 L1316.95,832.61 L1318.98,832.23 L1321,831.79 L1323.02,831.31 L1325.05,830.77 L1327.07,830.16 L1329.1,829.49 L1331.12,828.74 L1333.14,827.91 L1335.17,827 L1337.19,825.99 L1339.22,824.88 L1341.24,823.67 L1343.26,822.33 L1345.29,820.88 L1347.31,819.3 L1349.34,817.58 L1351.36,815.71 L1353.38,813.69 L1355.41,811.51 L1357.43,809.16 L1359.46,806.64 L1361.48,803.95 L1363.5,801.06 L1365.53,797.99 L1367.55,794.72 L1369.58,791.25 L1371.6,787.58 L1373.62,783.71 L1375.65,779.64 L1377.67,775.37 L1379.7,770.9 L1381.72,766.23 L1383.74,761.37 L1385.77,756.33 L1387.79,751.11 L1389.82,745.73 L1391.84,740.19 L1393.86,734.51 L1395.89,728.7 L1397.91,722.79 L1399.94,716.78 L1401.96,710.7 L1403.98,704.57 L1406.01,698.42 L1408.03,692.25 L1410.06,686.11 L1412.08,680.01 L1414.1,673.99 L1416.13,668.06 L1418.15,662.26 L1420.18,656.62 L1422.2,651.15 L1424.22,645.9 L1426.25,640.88 L1428.27,636.13 L1430.3,631.66 L1432.32,627.51 L1434.34,623.69 L1436.37,620.22 L1438.39,617.13 L1440.42,614.43 L1442.44,612.14 L1444.46,610.27 L1446.49,608.83 L1448.51,607.83 L1450.54,607.27 L1452.56,607.17 L1454.58,607.65 L1456.61,608.75 L1458.63,610.44 L1460.66,612.72 L1462.68,615.56 L1464.7,618.95 L1466.73,622.85 L1468.75,627.23 L1470.78,632.06 L1472.8,637.3 L1474.82,642.91 L1476.85,648.85 L1478.87,655.08 L1480.9,661.55 L1482.92,668.23 L1484.94,675.06 L1486.97,682.01 L1488.99,689.04 L1491.02,696.09 L1493.04,703.14 L1495.06,710.15 L1497.09,717.08 L1499.11,723.89 L1501.14,730.57 L1503.16,737.09 L1505.18,743.41 L1507.21,749.53 L1509.23,755.41 L1511.26,761.06 L1513.28,766.45 L1515.3,771.58 L1517.33,776.44 L1519.35,781.04 L1521.38,785.36 L1523.4,789.4 L1525.42,793.19 L1527.45,796.71 L1529.47,799.97 L1531.5,802.99 L1533.52,805.77 L1535.54,808.32 L1537.57,810.65 L1539.59,812.78 L1541.62,814.71 L1543.64,816.46 L1545.66,818.05 L1547.69,819.47 L1549.71,820.75 L1551.74,821.89 L1553.76,822.91 L1555.78,823.81 L1557.81,824.61 L1559.83,825.32 L1561.86,825.94 L1563.88,826.49 L1565.9,826.97 L1567.93,827.38 L1569.95,827.75 L1571.98,828.06 L1574,828.33 L1576.02,828.56 L1578.05,828.77 L1580.07,828.94 L1582.1,829.08 L1584.12,829.21 L1586.14,829.32 L1588.17,829.41 L1590.19,829.48 L1592.22,829.55 L1594.24,829.6 L1596.26,829.64 L1598.29,829.68 L1600.31,829.71 L1602.34,829.74 L1604.36,829.76 L1606.38,829.78 L1608.41,829.79 L1610.43,829.8 L1612.46,829.81 L1614.48,829.82 L1616.5,829.83 L1618.53,829.83 L1620.55,829.83 L1622.58,829.84 L1624.6,829.84 L1626.62,829.84 L1628.65,829.84 L1630.67,829.85 L1632.7,829.85 L1634.72,829.85 L1636.74,829.85 L1638.77,829.85 L1640.79,829.85 L1642.82,829.85 L1644.84,829.85 L1646.86,829.85 L1648.89,829.85 L1650.91,829.85 L1652.94,829.85 L1654.96,829.85 L1656.98,829.85 L1659.01,829.85 L1661.03,829.85 L1663.06,829.85 L1665.08,829.85 L1667.1,829.85 L1669.13,829.85 L1671.15,829.85 L1673.18,829.85 L1675.2,829.85"/>
<path d="M1068,835.36 L1070.02,835.36 L1072.05,835.36 L1074.07,835.36 L1076.1,835.36 L1078.12,835.36 L1080.14,835.36 L1082.17,835.36 L1084.19,835.36 L1086.22,835.36 L1088.24,835.36 L1090.26,835.36 L1092.29,835.36 L1094.31,835.36 L1096.34,835.36 L1098.36,835.36 L1100.38,835.36 L1102.41,835.36 L1104.43,835.36 L1106.46,835.36 L1108.48,835.36 L1110.5,835.36 L1112.53,835.36 L1114.55,835.36 L1116.58,835.36 L1118.6,835.36 L1120.62,835.36 L1122.65,835.36 L1124.67,835.36 L1126.7,835.36 L1128.72,835.36 L1130.74,835.36 L1132.77,835.36 L1134.79,835.36 L1136.82,835.36 L1138.84,835.36 L1140.86,835.36 L1142.89,835.36 L1144.91,835.36 L1146.94,835.36 L1148.96,835.36 L1150.98,835.36 L1153.01,835.36 L1155.03,835.36 L1157.06,835.36 L1159.08,835.36 L1161.1,835.36 L1163.13,835.36 L1165.15,835.36 L1167.18,835.36 L1169.2,835.36 L1171.22,835.36 L1173.25,835.36 L1175.27,835.36 L1177.3,835.36 L1179.32,835.36 L1181.34,835.36 L1183.37,835.36 L1185.39,835.36 L1187.42,835.36 L1189.44,835.36 L1191.46,835.36 L1193.49,835.36 L1195.51,835.36 L1197.54,835.36 L1199.56,835.36 L1201.58,835.36 L1203.61,835.36 L1205.63,835.36 L1207.66,835.36 L1209.68,835.36 L1211.7,835.36 L1213.73,835.36 L1215.75,835.36 L1217.78,835.36 L1219.8,835.36 L1221.82,835.36 L1223.85,835.36 L1225.87,835.36 L1227.9,835.36 L1229.92,835.36 L1231.94,835.36 L1233.97,835.36 L1235.99,835.36 L1238.02,835.36 L1240.04,835.36 L1242.06,835.36 L1244.09,835.36 L1246.11,835.35 L1248.14,835.35 L1250.16,835.35 L1252.18,835.35 L1254.21,835.35 L1256.23,835.34 L1258.26,835.34 L1260.28,835.33 L1262.3,835.33 L1264.33,835.32 L1266.35,835.31 L1268.38,835.3 L1270.4,835.29 L1272.42,835.27 L1274.45,835.26 L1276.47,835.24 L1278.5,835.21 L1280.52,835.18 L1282.54,835.15 L1284.57,835.11 L1286.59,835.07 L1288.62,835.02 L1290.64,834.96 L1292.66,834.89 L1294.69,834.81 L1296.71,834.72 L1298.74,834.61 L1300.76,834.49 L1302.78,834.35 L1304.81,834.2 L1306.83,834.02 L1308.86,833.81 L1310.88,833.58 L1312.9,833.32 L1314.93,833.02 L1316.95,832.69 L1318.98,832.31 L1321,831.89 L1323.02,831.42 L1325.05,830.89 L1327.07,830.3 L1329.1,829.65 L1331.12,828.93 L1333.14,828.13 L1335.17,827.24 L1337.19,826.27 L1339.22,825.19 L1341.24,824.02 L1343.26,822.73 L1345.29,821.33 L1347.31,819.8 L1349.34,818.14 L1351.36,816.33 L1353.38,814.39 L1355.41,812.29 L1357.43,810.02 L1359.46,807.6 L1361.48,805 L1363.5,802.22 L1365.53,799.26 L1367.55,796.12 L1369.58,792.79 L1371.6,789.26 L1373.62,785.54 L1375.65,781.64 L1377.67,777.53 L1379.7,773.25 L1381.72,768.77 L1383.74,764.11 L1385.77,759.29 L1387.79,754.29 L1389.82,749.14 L1391.84,743.84 L1393.86,738.42 L1395.89,732.87 L1397.91,727.22 L1399.94,721.49 L1401.96,715.7 L1403.98,709.86 L1406.01,703.99 L1408.03,698.13 L1410.06,692.28 L1412.08,686.49 L1414.1,680.77 L1416.13,675.14 L1418.15,669.65 L1420.18,664.3 L1422.2,659.13 L1424.22,654.17 L1426.25,649.43 L1428.27,644.95 L1430.3,640.75 L1432.32,636.84 L1434.34,633.26 L1436.37,630.02 L1438.39,627.14 L1440.42,624.64 L1442.44,622.52 L1444.46,620.81 L1446.49,619.51 L1448.51,618.62 L1450.54,618.16 L1452.56,618.15 L1454.58,618.7 L1456.61,619.83 L1458.63,621.52 L1460.66,623.75 L1462.68,626.52 L1464.7,629.8 L1466.73,633.55 L1468.75,637.75 L1470.78,642.37 L1472.8,647.38 L1474.82,652.73 L1476.85,658.39 L1478.87,664.31 L1480.9,670.46 L1482.92,676.8 L1484.94,683.28 L1486.97,689.86 L1488.99,696.51 L1491.02,703.19 L1493.04,709.86 L1495.06,716.49 L1497.09,723.04 L1499.11,729.48 L1501.14,735.8 L1503.16,741.95 L1505.18,747.93 L1507.21,753.71 L1509.23,759.27 L1511.26,764.61 L1513.28,769.71 L1515.3,774.56 L1517.33,779.15 L1519.35,783.5 L1521.38,787.58 L1523.4,791.41 L1525.42,794.99 L1527.45,798.32 L1529.47,801.42 L1531.5,804.27 L1533.52,806.91 L1535.54,809.33 L1537.57,811.54 L1539.59,813.56 L1541.62,815.4 L1543.64,817.06 L1545.66,818.56 L1547.69,819.92 L1549.71,821.13 L1551.74,822.22 L1553.76,823.19 L1555.78,824.05 L1557.81,824.82 L1559.83,825.49 L1561.86,826.09 L1563.88,826.61 L1565.9,827.07 L1567.93,827.47 L1569.95,827.82 L1571.98,828.12 L1574,828.38 L1576.02,828.61 L1578.05,828.8 L1580.07,828.97 L1582.1,829.11 L1584.12,829.23 L1586.14,829.33 L1588.17,829.42 L1590.19,829.49 L1592.22,829.55 L1594.24,829.6 L1596.26,829.65 L1598.29,829.68 L1600.31,829.71 L1602.34,829.74 L1604.36,829.76 L1606.38,829.78 L1608.41,829.79 L1610.43,829.8 L1612.46,829.81 L1614.48,829.82 L1616.5,829.83 L1618.53,829.83 L1620.55,829.83 L1622.58,829.84 L1624.6,829.84 L1626.62,829.84 L1628.65,829.84 L1630.67,829.85 L1632.7,829.85 L1634.72,829.85 L1636.74,829.85 L1638.77,829.85 L1640.79,829.85 L1642.82,829.85 L1644.84,829.85 L1646.86,829.85 L1648.89,829.85 L1650.91,829.85 L1652.94,829.85 L1654.96,829.85 L1656.98,829.85 L1659.01,829.85 L1661.03,829.85 L1663.06,829.85 L1665.08,829.85 L1667.1,829.85 L1669.13,829.85 L1671.15,829.85 L1673.18,829.85 L1675.2,829.85"/>
</g>
</svg>
</body></html>
